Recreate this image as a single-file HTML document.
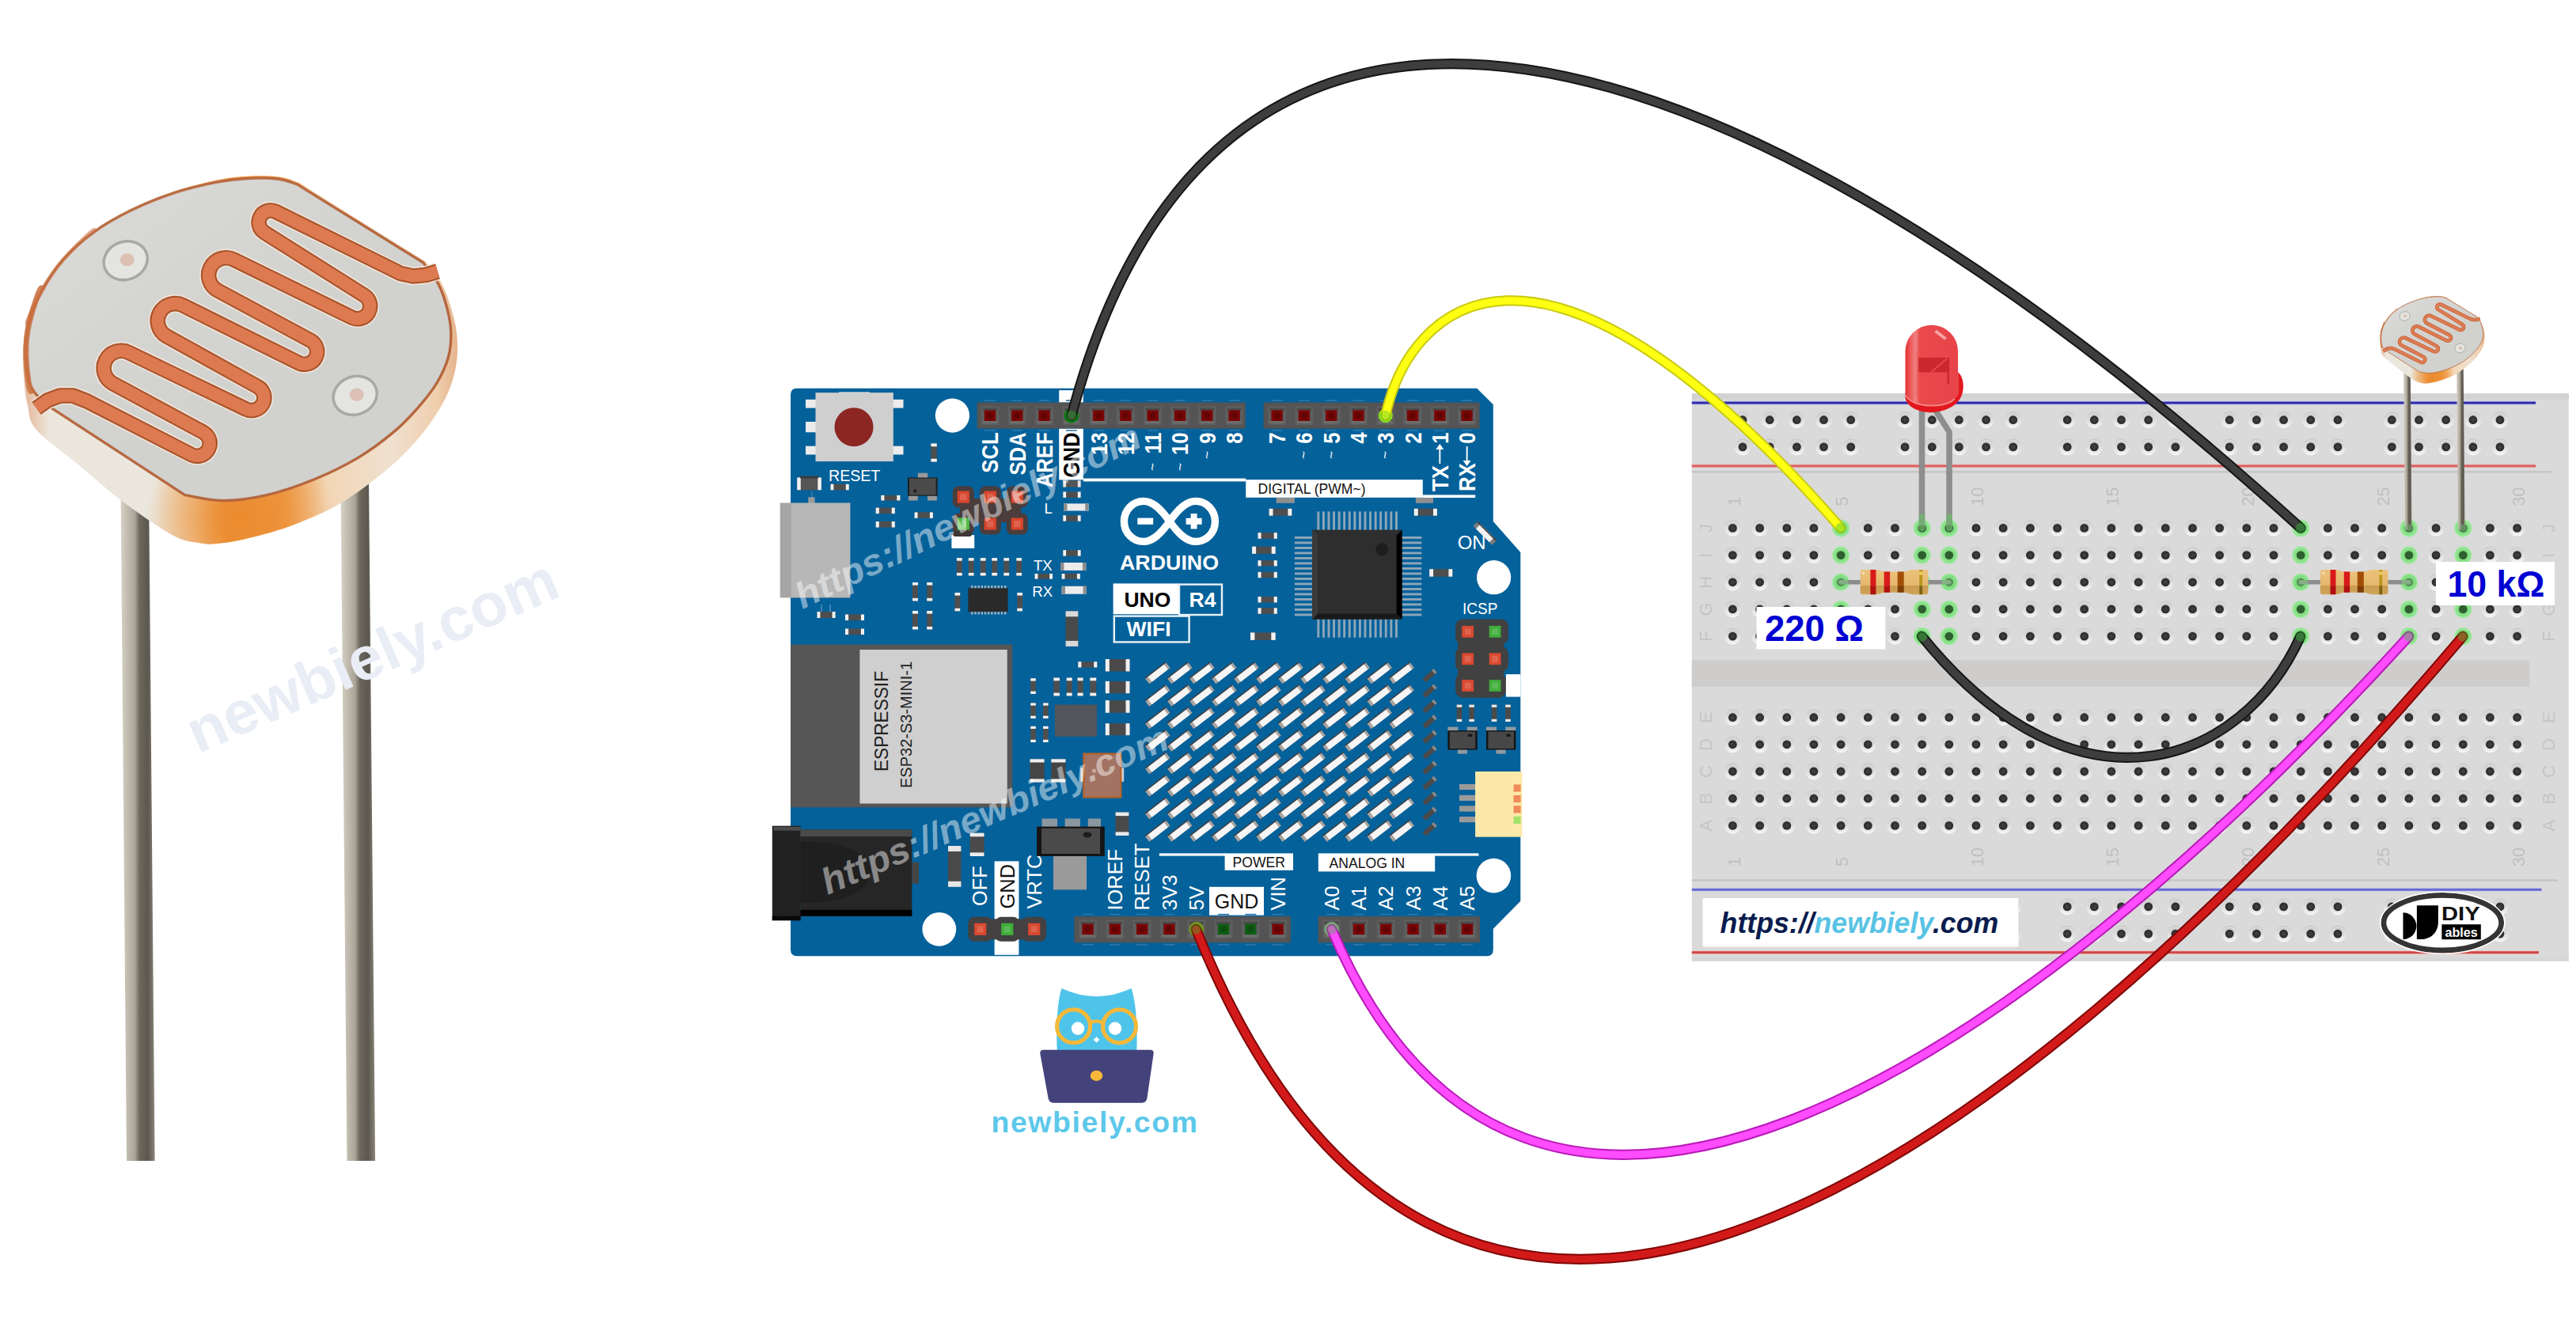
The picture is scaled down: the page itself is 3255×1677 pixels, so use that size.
<!DOCTYPE html>
<html><head><meta charset="utf-8"><title>Arduino UNO R4 LDR wiring</title>
<style>html,body{margin:0;padding:0;background:#fff;overflow:hidden}svg{display:block}text{font-family:"Liberation Sans",sans-serif}</style>
</head><body>
<svg width="3255" height="1677" viewBox="0 0 3255 1677">
<defs>
<linearGradient id="hg" x1="0" y1="0" x2="0" y2="1"><stop offset="0" stop-color="#c2c2c2"/><stop offset="0.35" stop-color="#d8d8d8"/><stop offset="1" stop-color="#f7f7f7"/></linearGradient>
<radialGradient id="hd"><stop offset="0" stop-color="#454545"/><stop offset="0.7" stop-color="#303030"/><stop offset="1" stop-color="#2a2a2a"/></radialGradient>
<g id="hole"><circle r="10.4" fill="url(#hg)"/><circle r="8.6" cy="-0.7" fill="#dcdcdc"/><circle r="8.6" cy="0.9" fill="url(#hg)" opacity="0.72"/><circle r="5.4" fill="url(#hd)"/></g>
<g id="ghole"><circle r="11" fill="#9be89b"/><circle r="9" fill="#86e086"/><circle r="5.4" fill="#2f5f2f"/></g>

<g id="mled" transform="rotate(-37.5)"><rect x="-16.6" y="-4.4" width="33.2" height="8.8" fill="#aaa39e"/><rect x="-12.4" y="-4.4" width="25.6" height="8.8" fill="#f5f5f5"/><rect x="-16.6" y="-5.4" width="33.2" height="1.7" fill="#39424a"/></g>

<linearGradient id="legg" x1="0" y1="0" x2="1" y2="0"><stop offset="0" stop-color="#d8d4c8"/><stop offset="0.18" stop-color="#c4bfb2"/><stop offset="0.42" stop-color="#aaa598"/><stop offset="0.56" stop-color="#6b675c"/><stop offset="0.8" stop-color="#5c584f"/><stop offset="1" stop-color="#8a867a"/></linearGradient>
<linearGradient id="wallg" x1="0" y1="0" x2="1" y2="0"><stop offset="0" stop-color="#e4b493"/><stop offset="0.06" stop-color="#ece6dc"/><stop offset="0.3" stop-color="#ebe7de"/><stop offset="0.4" stop-color="#efc79a"/><stop offset="0.47" stop-color="#ea9440"/><stop offset="0.6" stop-color="#ee9c4a"/><stop offset="0.7" stop-color="#f2d6b6"/><stop offset="0.85" stop-color="#efe0cf"/><stop offset="0.95" stop-color="#efcfae"/><stop offset="1" stop-color="#e6b48e"/></linearGradient>
<radialGradient id="wallo" cx="0.5" cy="0.93" r="0.22"><stop offset="0" stop-color="#ec8a2c" stop-opacity="0.9"/><stop offset="1" stop-color="#ec8a2c" stop-opacity="0"/></radialGradient>
<linearGradient id="faceg" x1="0" y1="0" x2="1" y2="1"><stop offset="0" stop-color="#fff" stop-opacity="0.12"/><stop offset="1" stop-color="#000" stop-opacity="0.03"/></linearGradient>

<linearGradient id="resg" x1="0" y1="0" x2="0" y2="1"><stop offset="0" stop-color="#ecc27c"/><stop offset="0.62" stop-color="#e6b86e"/><stop offset="0.66" stop-color="#c99c52"/><stop offset="1" stop-color="#cfa359"/></linearGradient>
<linearGradient id="ledg" x1="0" y1="0" x2="1" y2="0"><stop offset="0" stop-color="#e23034"/><stop offset="0.1" stop-color="#ee5a5a"/><stop offset="0.2" stop-color="#f08282"/><stop offset="0.27" stop-color="#ea4a4c"/><stop offset="1" stop-color="#e8444a"/></linearGradient>
</defs>
<rect width="3255" height="1677" fill="#fff"/>
<g id="bb">
<rect x="2137.8" y="497.3" width="1108.0" height="717.3" fill="#dadada"/>
<rect x="2137.8" y="497.3" width="1108.0" height="7" fill="#d2d2d2"/>
<rect x="2137.8" y="1209.6" width="1108.0" height="5" fill="#d6d6d6"/>
<rect x="2137.8" y="834.3" width="1058.6999999999998" height="33.6" fill="#cfcdcc"/>
<rect x="2137.8" y="595" width="1085.6999999999998" height="2.6" fill="#c6c6c6"/>
<rect x="2137.8" y="1111.2" width="1094.1999999999998" height="2.6" fill="#c6c6c6"/>
<rect x="2137.8" y="506.6" width="1066.1999999999998" height="5" fill="#c9c9f2"/>
<rect x="2137.8" y="507.6" width="1066.1999999999998" height="3" fill="#2c2ca6"/>
<rect x="2137.8" y="586.4" width="1066.1999999999998" height="5" fill="#f4c4c4"/>
<rect x="2137.8" y="587.4" width="1066.1999999999998" height="3" fill="#d66262"/>
<rect x="2137.8" y="1121.8" width="1073.6999999999998" height="5" fill="#cfcff2"/>
<rect x="2137.8" y="1122.8" width="1073.6999999999998" height="3" fill="#6a6ad0"/>
<rect x="2137.8" y="1201.2" width="1070.1999999999998" height="5" fill="#f4c4c4"/>
<rect x="2137.8" y="1202.2" width="1070.1999999999998" height="3" fill="#d04848"/>
<use href="#hole" x="2189.4" y="667.4"/>
<use href="#hole" x="2223.6" y="667.4"/>
<use href="#hole" x="2257.8" y="667.4"/>
<use href="#hole" x="2291.9" y="667.4"/>
<use href="#hole" x="2326.1" y="667.4"/>
<use href="#hole" x="2360.3" y="667.4"/>
<use href="#hole" x="2394.5" y="667.4"/>
<use href="#hole" x="2428.7" y="667.4"/>
<use href="#hole" x="2462.8" y="667.4"/>
<use href="#hole" x="2497" y="667.4"/>
<use href="#hole" x="2531.2" y="667.4"/>
<use href="#hole" x="2565.4" y="667.4"/>
<use href="#hole" x="2599.6" y="667.4"/>
<use href="#hole" x="2633.7" y="667.4"/>
<use href="#hole" x="2667.9" y="667.4"/>
<use href="#hole" x="2702.1" y="667.4"/>
<use href="#hole" x="2736.3" y="667.4"/>
<use href="#hole" x="2770.5" y="667.4"/>
<use href="#hole" x="2804.6" y="667.4"/>
<use href="#hole" x="2838.8" y="667.4"/>
<use href="#hole" x="2873" y="667.4"/>
<use href="#hole" x="2907.2" y="667.4"/>
<use href="#hole" x="2941.4" y="667.4"/>
<use href="#hole" x="2975.5" y="667.4"/>
<use href="#hole" x="3009.7" y="667.4"/>
<use href="#hole" x="3043.9" y="667.4"/>
<use href="#hole" x="3078.1" y="667.4"/>
<use href="#hole" x="3112.3" y="667.4"/>
<use href="#hole" x="3146.4" y="667.4"/>
<use href="#hole" x="3180.6" y="667.4"/>
<use href="#hole" x="2189.4" y="701.6"/>
<use href="#hole" x="2223.6" y="701.6"/>
<use href="#hole" x="2257.8" y="701.6"/>
<use href="#hole" x="2291.9" y="701.6"/>
<use href="#hole" x="2326.1" y="701.6"/>
<use href="#hole" x="2360.3" y="701.6"/>
<use href="#hole" x="2394.5" y="701.6"/>
<use href="#hole" x="2428.7" y="701.6"/>
<use href="#hole" x="2462.8" y="701.6"/>
<use href="#hole" x="2497" y="701.6"/>
<use href="#hole" x="2531.2" y="701.6"/>
<use href="#hole" x="2565.4" y="701.6"/>
<use href="#hole" x="2599.6" y="701.6"/>
<use href="#hole" x="2633.7" y="701.6"/>
<use href="#hole" x="2667.9" y="701.6"/>
<use href="#hole" x="2702.1" y="701.6"/>
<use href="#hole" x="2736.3" y="701.6"/>
<use href="#hole" x="2770.5" y="701.6"/>
<use href="#hole" x="2804.6" y="701.6"/>
<use href="#hole" x="2838.8" y="701.6"/>
<use href="#hole" x="2873" y="701.6"/>
<use href="#hole" x="2907.2" y="701.6"/>
<use href="#hole" x="2941.4" y="701.6"/>
<use href="#hole" x="2975.5" y="701.6"/>
<use href="#hole" x="3009.7" y="701.6"/>
<use href="#hole" x="3043.9" y="701.6"/>
<use href="#hole" x="3078.1" y="701.6"/>
<use href="#hole" x="3112.3" y="701.6"/>
<use href="#hole" x="3146.4" y="701.6"/>
<use href="#hole" x="3180.6" y="701.6"/>
<use href="#hole" x="2189.4" y="735.8"/>
<use href="#hole" x="2223.6" y="735.8"/>
<use href="#hole" x="2257.8" y="735.8"/>
<use href="#hole" x="2291.9" y="735.8"/>
<use href="#hole" x="2326.1" y="735.8"/>
<use href="#hole" x="2360.3" y="735.8"/>
<use href="#hole" x="2394.5" y="735.8"/>
<use href="#hole" x="2428.7" y="735.8"/>
<use href="#hole" x="2462.8" y="735.8"/>
<use href="#hole" x="2497" y="735.8"/>
<use href="#hole" x="2531.2" y="735.8"/>
<use href="#hole" x="2565.4" y="735.8"/>
<use href="#hole" x="2599.6" y="735.8"/>
<use href="#hole" x="2633.7" y="735.8"/>
<use href="#hole" x="2667.9" y="735.8"/>
<use href="#hole" x="2702.1" y="735.8"/>
<use href="#hole" x="2736.3" y="735.8"/>
<use href="#hole" x="2770.5" y="735.8"/>
<use href="#hole" x="2804.6" y="735.8"/>
<use href="#hole" x="2838.8" y="735.8"/>
<use href="#hole" x="2873" y="735.8"/>
<use href="#hole" x="2907.2" y="735.8"/>
<use href="#hole" x="2941.4" y="735.8"/>
<use href="#hole" x="2975.5" y="735.8"/>
<use href="#hole" x="3009.7" y="735.8"/>
<use href="#hole" x="3043.9" y="735.8"/>
<use href="#hole" x="3078.1" y="735.8"/>
<use href="#hole" x="3112.3" y="735.8"/>
<use href="#hole" x="3146.4" y="735.8"/>
<use href="#hole" x="3180.6" y="735.8"/>
<use href="#hole" x="2189.4" y="769.9"/>
<use href="#hole" x="2223.6" y="769.9"/>
<use href="#hole" x="2257.8" y="769.9"/>
<use href="#hole" x="2291.9" y="769.9"/>
<use href="#hole" x="2326.1" y="769.9"/>
<use href="#hole" x="2360.3" y="769.9"/>
<use href="#hole" x="2394.5" y="769.9"/>
<use href="#hole" x="2428.7" y="769.9"/>
<use href="#hole" x="2462.8" y="769.9"/>
<use href="#hole" x="2497" y="769.9"/>
<use href="#hole" x="2531.2" y="769.9"/>
<use href="#hole" x="2565.4" y="769.9"/>
<use href="#hole" x="2599.6" y="769.9"/>
<use href="#hole" x="2633.7" y="769.9"/>
<use href="#hole" x="2667.9" y="769.9"/>
<use href="#hole" x="2702.1" y="769.9"/>
<use href="#hole" x="2736.3" y="769.9"/>
<use href="#hole" x="2770.5" y="769.9"/>
<use href="#hole" x="2804.6" y="769.9"/>
<use href="#hole" x="2838.8" y="769.9"/>
<use href="#hole" x="2873" y="769.9"/>
<use href="#hole" x="2907.2" y="769.9"/>
<use href="#hole" x="2941.4" y="769.9"/>
<use href="#hole" x="2975.5" y="769.9"/>
<use href="#hole" x="3009.7" y="769.9"/>
<use href="#hole" x="3043.9" y="769.9"/>
<use href="#hole" x="3078.1" y="769.9"/>
<use href="#hole" x="3112.3" y="769.9"/>
<use href="#hole" x="3146.4" y="769.9"/>
<use href="#hole" x="3180.6" y="769.9"/>
<use href="#hole" x="2189.4" y="804.1"/>
<use href="#hole" x="2223.6" y="804.1"/>
<use href="#hole" x="2257.8" y="804.1"/>
<use href="#hole" x="2291.9" y="804.1"/>
<use href="#hole" x="2326.1" y="804.1"/>
<use href="#hole" x="2360.3" y="804.1"/>
<use href="#hole" x="2394.5" y="804.1"/>
<use href="#hole" x="2428.7" y="804.1"/>
<use href="#hole" x="2462.8" y="804.1"/>
<use href="#hole" x="2497" y="804.1"/>
<use href="#hole" x="2531.2" y="804.1"/>
<use href="#hole" x="2565.4" y="804.1"/>
<use href="#hole" x="2599.6" y="804.1"/>
<use href="#hole" x="2633.7" y="804.1"/>
<use href="#hole" x="2667.9" y="804.1"/>
<use href="#hole" x="2702.1" y="804.1"/>
<use href="#hole" x="2736.3" y="804.1"/>
<use href="#hole" x="2770.5" y="804.1"/>
<use href="#hole" x="2804.6" y="804.1"/>
<use href="#hole" x="2838.8" y="804.1"/>
<use href="#hole" x="2873" y="804.1"/>
<use href="#hole" x="2907.2" y="804.1"/>
<use href="#hole" x="2941.4" y="804.1"/>
<use href="#hole" x="2975.5" y="804.1"/>
<use href="#hole" x="3009.7" y="804.1"/>
<use href="#hole" x="3043.9" y="804.1"/>
<use href="#hole" x="3078.1" y="804.1"/>
<use href="#hole" x="3112.3" y="804.1"/>
<use href="#hole" x="3146.4" y="804.1"/>
<use href="#hole" x="3180.6" y="804.1"/>
<use href="#hole" x="2189.4" y="906.7"/>
<use href="#hole" x="2223.6" y="906.7"/>
<use href="#hole" x="2257.8" y="906.7"/>
<use href="#hole" x="2291.9" y="906.7"/>
<use href="#hole" x="2326.1" y="906.7"/>
<use href="#hole" x="2360.3" y="906.7"/>
<use href="#hole" x="2394.5" y="906.7"/>
<use href="#hole" x="2428.7" y="906.7"/>
<use href="#hole" x="2462.8" y="906.7"/>
<use href="#hole" x="2497" y="906.7"/>
<use href="#hole" x="2531.2" y="906.7"/>
<use href="#hole" x="2565.4" y="906.7"/>
<use href="#hole" x="2599.6" y="906.7"/>
<use href="#hole" x="2633.7" y="906.7"/>
<use href="#hole" x="2667.9" y="906.7"/>
<use href="#hole" x="2702.1" y="906.7"/>
<use href="#hole" x="2736.3" y="906.7"/>
<use href="#hole" x="2770.5" y="906.7"/>
<use href="#hole" x="2804.6" y="906.7"/>
<use href="#hole" x="2838.8" y="906.7"/>
<use href="#hole" x="2873" y="906.7"/>
<use href="#hole" x="2907.2" y="906.7"/>
<use href="#hole" x="2941.4" y="906.7"/>
<use href="#hole" x="2975.5" y="906.7"/>
<use href="#hole" x="3009.7" y="906.7"/>
<use href="#hole" x="3043.9" y="906.7"/>
<use href="#hole" x="3078.1" y="906.7"/>
<use href="#hole" x="3112.3" y="906.7"/>
<use href="#hole" x="3146.4" y="906.7"/>
<use href="#hole" x="3180.6" y="906.7"/>
<use href="#hole" x="2189.4" y="940.8"/>
<use href="#hole" x="2223.6" y="940.8"/>
<use href="#hole" x="2257.8" y="940.8"/>
<use href="#hole" x="2291.9" y="940.8"/>
<use href="#hole" x="2326.1" y="940.8"/>
<use href="#hole" x="2360.3" y="940.8"/>
<use href="#hole" x="2394.5" y="940.8"/>
<use href="#hole" x="2428.7" y="940.8"/>
<use href="#hole" x="2462.8" y="940.8"/>
<use href="#hole" x="2497" y="940.8"/>
<use href="#hole" x="2531.2" y="940.8"/>
<use href="#hole" x="2565.4" y="940.8"/>
<use href="#hole" x="2599.6" y="940.8"/>
<use href="#hole" x="2633.7" y="940.8"/>
<use href="#hole" x="2667.9" y="940.8"/>
<use href="#hole" x="2702.1" y="940.8"/>
<use href="#hole" x="2736.3" y="940.8"/>
<use href="#hole" x="2770.5" y="940.8"/>
<use href="#hole" x="2804.6" y="940.8"/>
<use href="#hole" x="2838.8" y="940.8"/>
<use href="#hole" x="2873" y="940.8"/>
<use href="#hole" x="2907.2" y="940.8"/>
<use href="#hole" x="2941.4" y="940.8"/>
<use href="#hole" x="2975.5" y="940.8"/>
<use href="#hole" x="3009.7" y="940.8"/>
<use href="#hole" x="3043.9" y="940.8"/>
<use href="#hole" x="3078.1" y="940.8"/>
<use href="#hole" x="3112.3" y="940.8"/>
<use href="#hole" x="3146.4" y="940.8"/>
<use href="#hole" x="3180.6" y="940.8"/>
<use href="#hole" x="2189.4" y="975"/>
<use href="#hole" x="2223.6" y="975"/>
<use href="#hole" x="2257.8" y="975"/>
<use href="#hole" x="2291.9" y="975"/>
<use href="#hole" x="2326.1" y="975"/>
<use href="#hole" x="2360.3" y="975"/>
<use href="#hole" x="2394.5" y="975"/>
<use href="#hole" x="2428.7" y="975"/>
<use href="#hole" x="2462.8" y="975"/>
<use href="#hole" x="2497" y="975"/>
<use href="#hole" x="2531.2" y="975"/>
<use href="#hole" x="2565.4" y="975"/>
<use href="#hole" x="2599.6" y="975"/>
<use href="#hole" x="2633.7" y="975"/>
<use href="#hole" x="2667.9" y="975"/>
<use href="#hole" x="2702.1" y="975"/>
<use href="#hole" x="2736.3" y="975"/>
<use href="#hole" x="2770.5" y="975"/>
<use href="#hole" x="2804.6" y="975"/>
<use href="#hole" x="2838.8" y="975"/>
<use href="#hole" x="2873" y="975"/>
<use href="#hole" x="2907.2" y="975"/>
<use href="#hole" x="2941.4" y="975"/>
<use href="#hole" x="2975.5" y="975"/>
<use href="#hole" x="3009.7" y="975"/>
<use href="#hole" x="3043.9" y="975"/>
<use href="#hole" x="3078.1" y="975"/>
<use href="#hole" x="3112.3" y="975"/>
<use href="#hole" x="3146.4" y="975"/>
<use href="#hole" x="3180.6" y="975"/>
<use href="#hole" x="2189.4" y="1009.2"/>
<use href="#hole" x="2223.6" y="1009.2"/>
<use href="#hole" x="2257.8" y="1009.2"/>
<use href="#hole" x="2291.9" y="1009.2"/>
<use href="#hole" x="2326.1" y="1009.2"/>
<use href="#hole" x="2360.3" y="1009.2"/>
<use href="#hole" x="2394.5" y="1009.2"/>
<use href="#hole" x="2428.7" y="1009.2"/>
<use href="#hole" x="2462.8" y="1009.2"/>
<use href="#hole" x="2497" y="1009.2"/>
<use href="#hole" x="2531.2" y="1009.2"/>
<use href="#hole" x="2565.4" y="1009.2"/>
<use href="#hole" x="2599.6" y="1009.2"/>
<use href="#hole" x="2633.7" y="1009.2"/>
<use href="#hole" x="2667.9" y="1009.2"/>
<use href="#hole" x="2702.1" y="1009.2"/>
<use href="#hole" x="2736.3" y="1009.2"/>
<use href="#hole" x="2770.5" y="1009.2"/>
<use href="#hole" x="2804.6" y="1009.2"/>
<use href="#hole" x="2838.8" y="1009.2"/>
<use href="#hole" x="2873" y="1009.2"/>
<use href="#hole" x="2907.2" y="1009.2"/>
<use href="#hole" x="2941.4" y="1009.2"/>
<use href="#hole" x="2975.5" y="1009.2"/>
<use href="#hole" x="3009.7" y="1009.2"/>
<use href="#hole" x="3043.9" y="1009.2"/>
<use href="#hole" x="3078.1" y="1009.2"/>
<use href="#hole" x="3112.3" y="1009.2"/>
<use href="#hole" x="3146.4" y="1009.2"/>
<use href="#hole" x="3180.6" y="1009.2"/>
<use href="#hole" x="2189.4" y="1043.4"/>
<use href="#hole" x="2223.6" y="1043.4"/>
<use href="#hole" x="2257.8" y="1043.4"/>
<use href="#hole" x="2291.9" y="1043.4"/>
<use href="#hole" x="2326.1" y="1043.4"/>
<use href="#hole" x="2360.3" y="1043.4"/>
<use href="#hole" x="2394.5" y="1043.4"/>
<use href="#hole" x="2428.7" y="1043.4"/>
<use href="#hole" x="2462.8" y="1043.4"/>
<use href="#hole" x="2497" y="1043.4"/>
<use href="#hole" x="2531.2" y="1043.4"/>
<use href="#hole" x="2565.4" y="1043.4"/>
<use href="#hole" x="2599.6" y="1043.4"/>
<use href="#hole" x="2633.7" y="1043.4"/>
<use href="#hole" x="2667.9" y="1043.4"/>
<use href="#hole" x="2702.1" y="1043.4"/>
<use href="#hole" x="2736.3" y="1043.4"/>
<use href="#hole" x="2770.5" y="1043.4"/>
<use href="#hole" x="2804.6" y="1043.4"/>
<use href="#hole" x="2838.8" y="1043.4"/>
<use href="#hole" x="2873" y="1043.4"/>
<use href="#hole" x="2907.2" y="1043.4"/>
<use href="#hole" x="2941.4" y="1043.4"/>
<use href="#hole" x="2975.5" y="1043.4"/>
<use href="#hole" x="3009.7" y="1043.4"/>
<use href="#hole" x="3043.9" y="1043.4"/>
<use href="#hole" x="3078.1" y="1043.4"/>
<use href="#hole" x="3112.3" y="1043.4"/>
<use href="#hole" x="3146.4" y="1043.4"/>
<use href="#hole" x="3180.6" y="1043.4"/>
<use href="#hole" x="2202" y="530.7"/>
<use href="#hole" x="2236.2" y="530.7"/>
<use href="#hole" x="2270.4" y="530.7"/>
<use href="#hole" x="2304.5" y="530.7"/>
<use href="#hole" x="2338.7" y="530.7"/>
<use href="#hole" x="2407.1" y="530.7"/>
<use href="#hole" x="2441.3" y="530.7"/>
<use href="#hole" x="2475.4" y="530.7"/>
<use href="#hole" x="2509.6" y="530.7"/>
<use href="#hole" x="2543.8" y="530.7"/>
<use href="#hole" x="2612.2" y="530.7"/>
<use href="#hole" x="2646.3" y="530.7"/>
<use href="#hole" x="2680.5" y="530.7"/>
<use href="#hole" x="2714.7" y="530.7"/>
<use href="#hole" x="2748.9" y="530.7"/>
<use href="#hole" x="2817.2" y="530.7"/>
<use href="#hole" x="2851.4" y="530.7"/>
<use href="#hole" x="2885.6" y="530.7"/>
<use href="#hole" x="2919.8" y="530.7"/>
<use href="#hole" x="2954" y="530.7"/>
<use href="#hole" x="3022.3" y="530.7"/>
<use href="#hole" x="3056.5" y="530.7"/>
<use href="#hole" x="3090.7" y="530.7"/>
<use href="#hole" x="3124.9" y="530.7"/>
<use href="#hole" x="3159" y="530.7"/>
<use href="#hole" x="2202" y="564.9"/>
<use href="#hole" x="2236.2" y="564.9"/>
<use href="#hole" x="2270.4" y="564.9"/>
<use href="#hole" x="2304.5" y="564.9"/>
<use href="#hole" x="2338.7" y="564.9"/>
<use href="#hole" x="2407.1" y="564.9"/>
<use href="#hole" x="2441.3" y="564.9"/>
<use href="#hole" x="2475.4" y="564.9"/>
<use href="#hole" x="2509.6" y="564.9"/>
<use href="#hole" x="2543.8" y="564.9"/>
<use href="#hole" x="2612.2" y="564.9"/>
<use href="#hole" x="2646.3" y="564.9"/>
<use href="#hole" x="2680.5" y="564.9"/>
<use href="#hole" x="2714.7" y="564.9"/>
<use href="#hole" x="2748.9" y="564.9"/>
<use href="#hole" x="2817.2" y="564.9"/>
<use href="#hole" x="2851.4" y="564.9"/>
<use href="#hole" x="2885.6" y="564.9"/>
<use href="#hole" x="2919.8" y="564.9"/>
<use href="#hole" x="2954" y="564.9"/>
<use href="#hole" x="3022.3" y="564.9"/>
<use href="#hole" x="3056.5" y="564.9"/>
<use href="#hole" x="3090.7" y="564.9"/>
<use href="#hole" x="3124.9" y="564.9"/>
<use href="#hole" x="3159" y="564.9"/>
<use href="#hole" x="2202" y="1145.9"/>
<use href="#hole" x="2236.2" y="1145.9"/>
<use href="#hole" x="2270.4" y="1145.9"/>
<use href="#hole" x="2304.5" y="1145.9"/>
<use href="#hole" x="2338.7" y="1145.9"/>
<use href="#hole" x="2407.1" y="1145.9"/>
<use href="#hole" x="2441.3" y="1145.9"/>
<use href="#hole" x="2475.4" y="1145.9"/>
<use href="#hole" x="2509.6" y="1145.9"/>
<use href="#hole" x="2543.8" y="1145.9"/>
<use href="#hole" x="2612.2" y="1145.9"/>
<use href="#hole" x="2646.3" y="1145.9"/>
<use href="#hole" x="2680.5" y="1145.9"/>
<use href="#hole" x="2714.7" y="1145.9"/>
<use href="#hole" x="2748.9" y="1145.9"/>
<use href="#hole" x="2817.2" y="1145.9"/>
<use href="#hole" x="2851.4" y="1145.9"/>
<use href="#hole" x="2885.6" y="1145.9"/>
<use href="#hole" x="2919.8" y="1145.9"/>
<use href="#hole" x="2954" y="1145.9"/>
<use href="#hole" x="3022.3" y="1145.9"/>
<use href="#hole" x="3056.5" y="1145.9"/>
<use href="#hole" x="3090.7" y="1145.9"/>
<use href="#hole" x="3124.9" y="1145.9"/>
<use href="#hole" x="3159" y="1145.9"/>
<use href="#hole" x="2202" y="1180.1"/>
<use href="#hole" x="2236.2" y="1180.1"/>
<use href="#hole" x="2270.4" y="1180.1"/>
<use href="#hole" x="2304.5" y="1180.1"/>
<use href="#hole" x="2338.7" y="1180.1"/>
<use href="#hole" x="2407.1" y="1180.1"/>
<use href="#hole" x="2441.3" y="1180.1"/>
<use href="#hole" x="2475.4" y="1180.1"/>
<use href="#hole" x="2509.6" y="1180.1"/>
<use href="#hole" x="2543.8" y="1180.1"/>
<use href="#hole" x="2612.2" y="1180.1"/>
<use href="#hole" x="2646.3" y="1180.1"/>
<use href="#hole" x="2680.5" y="1180.1"/>
<use href="#hole" x="2714.7" y="1180.1"/>
<use href="#hole" x="2748.9" y="1180.1"/>
<use href="#hole" x="2817.2" y="1180.1"/>
<use href="#hole" x="2851.4" y="1180.1"/>
<use href="#hole" x="2885.6" y="1180.1"/>
<use href="#hole" x="2919.8" y="1180.1"/>
<use href="#hole" x="2954" y="1180.1"/>
<use href="#hole" x="3022.3" y="1180.1"/>
<use href="#hole" x="3056.5" y="1180.1"/>
<use href="#hole" x="3090.7" y="1180.1"/>
<use href="#hole" x="3124.9" y="1180.1"/>
<use href="#hole" x="3159" y="1180.1"/>
<use href="#ghole" x="2326.1" y="667.4"/>
<use href="#ghole" x="2326.1" y="701.6"/>
<use href="#ghole" x="2326.1" y="735.8"/>
<use href="#ghole" x="2326.1" y="769.9"/>
<use href="#ghole" x="2326.1" y="804.1"/>
<use href="#ghole" x="2428.7" y="667.4"/>
<use href="#ghole" x="2428.7" y="701.6"/>
<use href="#ghole" x="2428.7" y="735.8"/>
<use href="#ghole" x="2428.7" y="769.9"/>
<use href="#ghole" x="2428.7" y="804.1"/>
<use href="#ghole" x="2462.8" y="667.4"/>
<use href="#ghole" x="2462.8" y="701.6"/>
<use href="#ghole" x="2462.8" y="735.8"/>
<use href="#ghole" x="2462.8" y="769.9"/>
<use href="#ghole" x="2462.8" y="804.1"/>
<use href="#ghole" x="2907.2" y="667.4"/>
<use href="#ghole" x="2907.2" y="701.6"/>
<use href="#ghole" x="2907.2" y="735.8"/>
<use href="#ghole" x="2907.2" y="769.9"/>
<use href="#ghole" x="2907.2" y="804.1"/>
<use href="#ghole" x="3043.9" y="667.4"/>
<use href="#ghole" x="3043.9" y="701.6"/>
<use href="#ghole" x="3043.9" y="735.8"/>
<use href="#ghole" x="3043.9" y="769.9"/>
<use href="#ghole" x="3043.9" y="804.1"/>
<use href="#ghole" x="3112.3" y="667.4"/>
<use href="#ghole" x="3112.3" y="701.6"/>
<use href="#ghole" x="3112.3" y="735.8"/>
<use href="#ghole" x="3112.3" y="769.9"/>
<use href="#ghole" x="3112.3" y="804.1"/>
<text transform="translate(2198.6,639.4) rotate(-90)" text-anchor="start" font-size="21.4" fill="#c0c0c0">1</text>
<text transform="translate(2198.6,1095) rotate(-90)" text-anchor="start" font-size="21.4" fill="#c0c0c0">1</text>
<text transform="translate(2335.3,639.4) rotate(-90)" text-anchor="start" font-size="21.4" fill="#c0c0c0">5</text>
<text transform="translate(2335.3,1095) rotate(-90)" text-anchor="start" font-size="21.4" fill="#c0c0c0">5</text>
<text transform="translate(2506.2,639.4) rotate(-90)" text-anchor="start" font-size="21.4" fill="#c0c0c0">10</text>
<text transform="translate(2506.2,1095) rotate(-90)" text-anchor="start" font-size="21.4" fill="#c0c0c0">10</text>
<text transform="translate(2677.1,639.4) rotate(-90)" text-anchor="start" font-size="21.4" fill="#c0c0c0">15</text>
<text transform="translate(2677.1,1095) rotate(-90)" text-anchor="start" font-size="21.4" fill="#c0c0c0">15</text>
<text transform="translate(2848,639.4) rotate(-90)" text-anchor="start" font-size="21.4" fill="#c0c0c0">20</text>
<text transform="translate(2848,1095) rotate(-90)" text-anchor="start" font-size="21.4" fill="#c0c0c0">20</text>
<text transform="translate(3018.9,639.4) rotate(-90)" text-anchor="start" font-size="21.4" fill="#c0c0c0">25</text>
<text transform="translate(3018.9,1095) rotate(-90)" text-anchor="start" font-size="21.4" fill="#c0c0c0">25</text>
<text transform="translate(3189.8,639.4) rotate(-90)" text-anchor="start" font-size="21.4" fill="#c0c0c0">30</text>
<text transform="translate(3189.8,1095) rotate(-90)" text-anchor="start" font-size="21.4" fill="#c0c0c0">30</text>
<text transform="translate(2163,667.4) rotate(-90)" text-anchor="middle" font-size="22" fill="#c6c6c6">J</text>
<text transform="translate(3228,667.4) rotate(-90)" text-anchor="middle" font-size="22" fill="#c6c6c6">J</text>
<text transform="translate(2163,701.6) rotate(-90)" text-anchor="middle" font-size="22" fill="#c6c6c6">I</text>
<text transform="translate(3228,701.6) rotate(-90)" text-anchor="middle" font-size="22" fill="#c6c6c6">I</text>
<text transform="translate(2163,735.8) rotate(-90)" text-anchor="middle" font-size="22" fill="#c6c6c6">H</text>
<text transform="translate(3228,735.8) rotate(-90)" text-anchor="middle" font-size="22" fill="#c6c6c6">H</text>
<text transform="translate(2163,769.9) rotate(-90)" text-anchor="middle" font-size="22" fill="#c6c6c6">G</text>
<text transform="translate(3228,769.9) rotate(-90)" text-anchor="middle" font-size="22" fill="#c6c6c6">G</text>
<text transform="translate(2163,804.1) rotate(-90)" text-anchor="middle" font-size="22" fill="#c6c6c6">F</text>
<text transform="translate(3228,804.1) rotate(-90)" text-anchor="middle" font-size="22" fill="#c6c6c6">F</text>
<text transform="translate(2163,906.7) rotate(-90)" text-anchor="middle" font-size="22" fill="#c6c6c6">E</text>
<text transform="translate(3228,906.7) rotate(-90)" text-anchor="middle" font-size="22" fill="#c6c6c6">E</text>
<text transform="translate(2163,940.8) rotate(-90)" text-anchor="middle" font-size="22" fill="#c6c6c6">D</text>
<text transform="translate(3228,940.8) rotate(-90)" text-anchor="middle" font-size="22" fill="#c6c6c6">D</text>
<text transform="translate(2163,975) rotate(-90)" text-anchor="middle" font-size="22" fill="#c6c6c6">C</text>
<text transform="translate(3228,975) rotate(-90)" text-anchor="middle" font-size="22" fill="#c6c6c6">C</text>
<text transform="translate(2163,1009.2) rotate(-90)" text-anchor="middle" font-size="22" fill="#c6c6c6">B</text>
<text transform="translate(3228,1009.2) rotate(-90)" text-anchor="middle" font-size="22" fill="#c6c6c6">B</text>
<text transform="translate(2163,1043.4) rotate(-90)" text-anchor="middle" font-size="22" fill="#c6c6c6">A</text>
<text transform="translate(3228,1043.4) rotate(-90)" text-anchor="middle" font-size="22" fill="#c6c6c6">A</text>
</g>
<g id="arduino">
<path d="M1007,490.8 L1866.2,490.8 L1886.8,511.2 L1886.8,659 L1921.3,698 L1921.3,1138.8 L1886.8,1173.8 L1886.8,1200.3 Q1886.8,1208.3 1878.8,1208.3 L1007,1208.3 Q999,1208.3 999,1200.3 L999,498.8 Q999,490.8 1007,490.8 Z" fill="#05619a"/><circle cx="1203.4" cy="525.1" r="21.6" fill="#fff"/><circle cx="1887.6" cy="729.7" r="21.6" fill="#fff"/><circle cx="1887.4" cy="1106.6" r="21.8" fill="#fff"/><circle cx="1186.8" cy="1174.3" r="21.4" fill="#fff"/>
<rect x="1338.2" y="493.2" width="30.6" height="15.4" fill="#fff" /><rect x="1338.2" y="541.6" width="30.6" height="64.8" fill="#fff" /><text transform="translate(1261.4,546.4) rotate(-90) scale(0.885,1)" font-size="29" font-weight="bold" text-anchor="end" fill="#fff" >SCL</text><text transform="translate(1295.7,546.4) rotate(-90) scale(0.885,1)" font-size="29" font-weight="bold" text-anchor="end" fill="#fff" >SDA</text><text transform="translate(1330,546.4) rotate(-90) scale(0.885,1)" font-size="29" font-weight="bold" text-anchor="end" fill="#fff" >AREF</text><text transform="translate(1364.3,546.4) rotate(-90) scale(0.885,1)" font-size="29" font-weight="bold" text-anchor="end" fill="#000" >GND</text><text transform="translate(1398.6,546.4) rotate(-90) scale(0.885,1)" font-size="29" font-weight="bold" text-anchor="end" fill="#fff" >13</text><text transform="translate(1432.9,546.4) rotate(-90) scale(0.885,1)" font-size="29" font-weight="bold" text-anchor="end" fill="#fff" >12</text><text transform="translate(1467.1,546.4) rotate(-90) scale(0.885,1)" font-size="29" font-weight="bold" text-anchor="end" fill="#fff" >11</text><text transform="translate(1462.2,590) rotate(-90) scale(1.0,1)" font-size="17" font-weight="normal" text-anchor="middle" fill="#fff" >~</text><text transform="translate(1501.4,546.4) rotate(-90) scale(0.885,1)" font-size="29" font-weight="bold" text-anchor="end" fill="#fff" >10</text><text transform="translate(1496.5,590) rotate(-90) scale(1.0,1)" font-size="17" font-weight="normal" text-anchor="middle" fill="#fff" >~</text><text transform="translate(1535.7,546.4) rotate(-90) scale(0.885,1)" font-size="29" font-weight="bold" text-anchor="end" fill="#fff" >9</text><text transform="translate(1530.8,575) rotate(-90) scale(1.0,1)" font-size="17" font-weight="normal" text-anchor="middle" fill="#fff" >~</text><text transform="translate(1570,546.4) rotate(-90) scale(0.885,1)" font-size="29" font-weight="bold" text-anchor="end" fill="#fff" >8</text><text transform="translate(1624,546.4) rotate(-90) scale(0.885,1)" font-size="29" font-weight="bold" text-anchor="end" fill="#fff" >7</text><text transform="translate(1658.3,546.4) rotate(-90) scale(0.885,1)" font-size="29" font-weight="bold" text-anchor="end" fill="#fff" >6</text><text transform="translate(1653.4,575) rotate(-90) scale(1.0,1)" font-size="17" font-weight="normal" text-anchor="middle" fill="#fff" >~</text><text transform="translate(1692.6,546.4) rotate(-90) scale(0.885,1)" font-size="29" font-weight="bold" text-anchor="end" fill="#fff" >5</text><text transform="translate(1687.7,575) rotate(-90) scale(1.0,1)" font-size="17" font-weight="normal" text-anchor="middle" fill="#fff" >~</text><text transform="translate(1726.9,546.4) rotate(-90) scale(0.885,1)" font-size="29" font-weight="bold" text-anchor="end" fill="#fff" >4</text><text transform="translate(1761.2,546.4) rotate(-90) scale(0.885,1)" font-size="29" font-weight="bold" text-anchor="end" fill="#fff" >3</text><text transform="translate(1756.3,575) rotate(-90) scale(1.0,1)" font-size="17" font-weight="normal" text-anchor="middle" fill="#fff" >~</text><text transform="translate(1795.5,546.4) rotate(-90) scale(0.885,1)" font-size="29" font-weight="bold" text-anchor="end" fill="#fff" >2</text><text transform="translate(1829.7,546.4) rotate(-90) scale(0.885,1)" font-size="29" font-weight="bold" text-anchor="end" fill="#fff" >1</text><text transform="translate(1864,546.4) rotate(-90) scale(0.885,1)" font-size="29" font-weight="bold" text-anchor="end" fill="#fff" >0</text><text transform="translate(1829.7,621) rotate(-90) scale(0.885,1)" font-size="29" font-weight="bold" text-anchor="start" fill="#fff" >TX</text><rect x="1818.4" y="564" width="1.9" height="22" fill="#fff"/><path d="M1819.3,561 l-5,7 h10 z" fill="#fff"/><text transform="translate(1864,621) rotate(-90) scale(0.885,1)" font-size="29" font-weight="bold" text-anchor="start" fill="#fff" >RX</text><rect x="1852.7" y="564" width="1.9" height="22" fill="#fff"/><path d="M1853.6,589 l-5,-7 h10 z" fill="#fff"/><rect x="1368.8" y="604.6" width="205.4" height="3.8" fill="#fff" /><rect x="1574.2" y="606.2" width="223.6" height="22.6" fill="#fff" /><rect x="1797.8" y="625.4" width="66.4" height="3.6" fill="#fff" /><text x="1589.5" y="624.2" font-size="18.6" font-weight="normal" text-anchor="start" fill="#111" textLength="136" lengthAdjust="spacingAndGlyphs">DIGITAL (PWM~)</text><text transform="translate(1417.9,1150.5) rotate(-90) scale(1.0,1)" font-size="25.4" font-weight="normal" text-anchor="start" fill="#fff" >IOREF</text><text transform="translate(1452.2,1150.5) rotate(-90) scale(1.0,1)" font-size="25.4" font-weight="normal" text-anchor="start" fill="#fff" >RESET</text><text transform="translate(1486.5,1150.5) rotate(-90) scale(1.0,1)" font-size="25.4" font-weight="normal" text-anchor="start" fill="#fff" >3V3</text><text transform="translate(1520.8,1150.5) rotate(-90) scale(1.0,1)" font-size="25.4" font-weight="normal" text-anchor="start" fill="#fff" >5V</text><text transform="translate(1623.6,1150.5) rotate(-90) scale(1.0,1)" font-size="25.4" font-weight="normal" text-anchor="start" fill="#fff" >VIN</text><rect x="1528" y="1120.8" width="69" height="35.8" fill="#fff" /><text x="1562.5" y="1147.6" font-size="25" font-weight="normal" text-anchor="middle" fill="#111" >GND</text><text transform="translate(1691.6,1150.5) rotate(-90) scale(1.0,1)" font-size="25.4" font-weight="normal" text-anchor="start" fill="#fff" >A0</text><text transform="translate(1725.9,1150.5) rotate(-90) scale(1.0,1)" font-size="25.4" font-weight="normal" text-anchor="start" fill="#fff" >A1</text><text transform="translate(1760.2,1150.5) rotate(-90) scale(1.0,1)" font-size="25.4" font-weight="normal" text-anchor="start" fill="#fff" >A2</text><text transform="translate(1794.5,1150.5) rotate(-90) scale(1.0,1)" font-size="25.4" font-weight="normal" text-anchor="start" fill="#fff" >A3</text><text transform="translate(1828.8,1150.5) rotate(-90) scale(1.0,1)" font-size="25.4" font-weight="normal" text-anchor="start" fill="#fff" >A4</text><text transform="translate(1863,1150.5) rotate(-90) scale(1.0,1)" font-size="25.4" font-weight="normal" text-anchor="start" fill="#fff" >A5</text><rect x="1464.8" y="1078.4" width="83.2" height="3.2" fill="#fff" /><rect x="1547.6" y="1078.4" width="86.4" height="21.4" fill="#fff" /><text x="1590.8" y="1096.4" font-size="17.6" font-weight="normal" text-anchor="middle" fill="#111" >POWER</text><rect x="1665.8" y="1078.4" width="147.4" height="23" fill="#fff" /><rect x="1813" y="1078.4" width="55.4" height="3.2" fill="#fff" /><text x="1679.5" y="1097" font-size="17.6" font-weight="normal" text-anchor="start" fill="#111" >ANALOG IN</text><rect x="1256.6" y="1088.4" width="30.8" height="118.4" fill="#fff" /><text transform="translate(1247.3,1145) rotate(-90) scale(1.0,1)" font-size="25.4" font-weight="normal" text-anchor="start" fill="#fff" >OFF</text><text transform="translate(1282.3,1148.4) rotate(-90) scale(1.0,1)" font-size="25.4" font-weight="normal" text-anchor="start" fill="#111" >GND</text><text transform="translate(1316.3,1148.4) rotate(-90) scale(1.0,1)" font-size="25.4" font-weight="normal" text-anchor="start" fill="#fff" >VRTC</text>
<rect x="1018" y="504.9" width="13" height="10.7" fill="#ececec" /><rect x="1018" y="533" width="13" height="13.3" fill="#ececec" /><rect x="1018" y="563.7" width="13" height="10.8" fill="#ececec" /><rect x="1128" y="504.9" width="13.5" height="10.7" fill="#ececec" /><rect x="1128" y="563.7" width="13.5" height="10.8" fill="#ececec" /><rect x="1030.5" y="496.2" width="98.3" height="86.9" fill="#cfcfcf" /><rect x="1060" y="495.4" width="39" height="1.6" fill="#d8d8d8" /><circle cx="1079" cy="539.7" r="24.5" fill="#8c2622"/><text x="1047" y="607.8" font-size="19.6" font-weight="normal" text-anchor="start" fill="#fff" >RESET</text><rect x="1007.2" y="603.5" width="30.7" height="15.8" fill="#555"/><rect x="1007.2" y="603.5" width="4.6" height="15.8" fill="#f0f0f0"/><rect x="1033.3" y="603.5" width="4.6" height="15.8" fill="#f0f0f0"/><rect x="1011" y="601.6" width="23" height="2.8" fill="#3c3c3c" /><rect x="1049.5" y="611.8" width="23.2" height="7.5" fill="#4e4e4e"/><rect x="1049.5" y="611.8" width="3.9" height="7.5" fill="#f2f2f2"/><rect x="1068.8" y="611.8" width="3.9" height="7.5" fill="#f2f2f2"/><rect x="1176.3" y="560.4" width="7.5" height="23.2" fill="#4e4e4e"/><rect x="1176.3" y="560.4" width="7.5" height="3.9" fill="#f2f2f2"/><rect x="1176.3" y="579.7" width="7.5" height="3.9" fill="#f2f2f2"/><rect x="1159.8" y="597.7" width="12.4" height="6.3" fill="#9a9a9a" /><rect x="1148" y="626.5" width="11.8" height="6" fill="#9a9a9a" /><rect x="1172" y="626.5" width="11.8" height="6" fill="#9a9a9a" /><rect x="1147" y="603.5" width="37.6" height="23.2" fill="#1e1e1e" /><rect x="1149" y="604.6" width="33.6" height="21" fill="#4b4b4b" /><circle cx="1156.2" cy="620.6" r="2" fill="#1a1a1a"/><rect x="1113.3" y="625.9" width="24.1" height="6.6" fill="#4e4e4e"/><rect x="1113.3" y="625.9" width="4.1" height="6.6" fill="#f2f2f2"/><rect x="1133.3" y="625.9" width="4.1" height="6.6" fill="#f2f2f2"/><rect x="1106.7" y="641.6" width="24.1" height="7.5" fill="#4e4e4e"/><rect x="1106.7" y="641.6" width="4.1" height="7.5" fill="#f2f2f2"/><rect x="1126.7" y="641.6" width="4.1" height="7.5" fill="#f2f2f2"/><rect x="1106.7" y="659" width="24.1" height="7.5" fill="#4e4e4e"/><rect x="1106.7" y="659" width="4.1" height="7.5" fill="#f2f2f2"/><rect x="1126.7" y="659" width="4.1" height="7.5" fill="#f2f2f2"/><rect x="1155.6" y="647.4" width="23.2" height="7.5" fill="#4e4e4e"/><rect x="1155.6" y="647.4" width="3.9" height="7.5" fill="#f2f2f2"/><rect x="1174.9" y="647.4" width="3.9" height="7.5" fill="#f2f2f2"/><rect x="1025" y="621" width="1.4" height="8" fill="#3f86b4" /><rect x="1021.3" y="628.4" width="8.3" height="7.6" fill="#9b9b9b" /><rect x="985.7" y="635.5" width="14.3" height="119.9" fill="#a5a5a5" /><rect x="999.8" y="635.5" width="74.6" height="119.9" fill="#b7b7b7" /><rect x="1032.5" y="773" width="23" height="8" fill="#4e4e4e"/><rect x="1032.5" y="773" width="3.9" height="8" fill="#f2f2f2"/><rect x="1051.6" y="773" width="3.9" height="8" fill="#f2f2f2"/><rect x="1037" y="764" width="2" height="9" fill="#3f86b4" /><rect x="1048" y="764" width="2" height="9" fill="#3f86b4" /><rect x="1068" y="776.5" width="24" height="7.5" fill="#4e4e4e"/><rect x="1068" y="776.5" width="4.1" height="7.5" fill="#f2f2f2"/><rect x="1087.9" y="776.5" width="4.1" height="7.5" fill="#f2f2f2"/><rect x="1068" y="794.5" width="24" height="7.5" fill="#4e4e4e"/><rect x="1068" y="794.5" width="4.1" height="7.5" fill="#f2f2f2"/><rect x="1087.9" y="794.5" width="4.1" height="7.5" fill="#f2f2f2"/><rect x="1203.8" y="614.6" width="27" height="27" rx="7" fill="#4b3d3b"/><rect x="1203.8" y="648.5" width="27" height="27" rx="7" fill="#4b3d3b"/><rect x="1237.8" y="614.6" width="27" height="27" rx="7" fill="#4b3d3b"/><rect x="1237.8" y="648.5" width="27" height="27" rx="7" fill="#4b3d3b"/><rect x="1271.8" y="614.6" width="27" height="27" rx="7" fill="#4b3d3b"/><rect x="1271.8" y="648.5" width="27" height="27" rx="7" fill="#4b3d3b"/><rect x="1213" y="630" width="77" height="30" fill="#4b3d3b" /><rect x="1209.7" y="620.5" width="15.2" height="15.2" fill="#d8452c"/><rect x="1213.1" y="623.9" width="8.4" height="8.4" fill="#fff" opacity="0.16"/><rect x="1209.7" y="654.4" width="15.2" height="15.2" fill="#4fb946"/><rect x="1213.1" y="657.8" width="8.4" height="8.4" fill="#fff" opacity="0.16"/><rect x="1243.7" y="620.5" width="15.2" height="15.2" fill="#d8452c"/><rect x="1247.1" y="623.9" width="8.4" height="8.4" fill="#fff" opacity="0.16"/><rect x="1243.7" y="654.4" width="15.2" height="15.2" fill="#d8452c"/><rect x="1247.1" y="657.8" width="8.4" height="8.4" fill="#fff" opacity="0.16"/><rect x="1277.7" y="620.5" width="15.2" height="15.2" fill="#d8452c"/><rect x="1281.1" y="623.9" width="8.4" height="8.4" fill="#fff" opacity="0.16"/><rect x="1277.7" y="654.4" width="15.2" height="15.2" fill="#d8452c"/><rect x="1281.1" y="657.8" width="8.4" height="8.4" fill="#fff" opacity="0.16"/><rect x="1202.4" y="676.1" width="28.8" height="16.8" fill="#fff" /><rect x="1204" y="671" width="24" height="7" rx="3" fill="#3c3634"/><rect x="1208.9" y="705.1" width="6.8" height="22.4" fill="#4e4e4e"/><rect x="1208.9" y="705.1" width="6.8" height="3.6" fill="#f2f2f2"/><rect x="1208.9" y="723.9" width="6.8" height="3.6" fill="#f2f2f2"/><rect x="1223.8" y="705.1" width="6.8" height="22.4" fill="#4e4e4e"/><rect x="1223.8" y="705.1" width="6.8" height="3.6" fill="#f2f2f2"/><rect x="1223.8" y="723.9" width="6.8" height="3.6" fill="#f2f2f2"/><rect x="1238.8" y="705.1" width="6.8" height="22.4" fill="#4e4e4e"/><rect x="1238.8" y="705.1" width="6.8" height="3.6" fill="#f2f2f2"/><rect x="1238.8" y="723.9" width="6.8" height="3.6" fill="#f2f2f2"/><rect x="1253.3" y="705.1" width="6.8" height="22.4" fill="#4e4e4e"/><rect x="1253.3" y="705.1" width="6.8" height="3.6" fill="#f2f2f2"/><rect x="1253.3" y="723.9" width="6.8" height="3.6" fill="#f2f2f2"/><rect x="1268.3" y="705.1" width="6.8" height="22.4" fill="#4e4e4e"/><rect x="1268.3" y="705.1" width="6.8" height="3.6" fill="#f2f2f2"/><rect x="1268.3" y="723.9" width="6.8" height="3.6" fill="#f2f2f2"/><rect x="1284.3" y="705.1" width="6.8" height="22.4" fill="#4e4e4e"/><rect x="1284.3" y="705.1" width="6.8" height="3.6" fill="#f2f2f2"/><rect x="1284.3" y="723.9" width="6.8" height="3.6" fill="#f2f2f2"/><rect x="1227" y="740" width="2.4" height="36.5" fill="#9fb2c0" /><rect x="1231.2" y="740" width="2.4" height="36.5" fill="#9fb2c0" /><rect x="1235.4" y="740" width="2.4" height="36.5" fill="#9fb2c0" /><rect x="1239.6" y="740" width="2.4" height="36.5" fill="#9fb2c0" /><rect x="1243.8" y="740" width="2.4" height="36.5" fill="#9fb2c0" /><rect x="1248" y="740" width="2.4" height="36.5" fill="#9fb2c0" /><rect x="1252.2" y="740" width="2.4" height="36.5" fill="#9fb2c0" /><rect x="1256.4" y="740" width="2.4" height="36.5" fill="#9fb2c0" /><rect x="1260.6" y="740" width="2.4" height="36.5" fill="#9fb2c0" /><rect x="1264.8" y="740" width="2.4" height="36.5" fill="#9fb2c0" /><rect x="1269" y="740" width="2.4" height="36.5" fill="#9fb2c0" /><rect x="1223.4" y="743.3" width="50.2" height="29.8" fill="#2a2a2a" /><rect x="1206.5" y="749" width="6.7" height="23.3" fill="#4e4e4e"/><rect x="1206.5" y="749" width="6.7" height="3.6" fill="#f2f2f2"/><rect x="1206.5" y="768.7" width="6.7" height="3.6" fill="#f2f2f2"/><rect x="1285.3" y="749" width="6.6" height="23.3" fill="#4e4e4e"/><rect x="1285.3" y="749" width="6.6" height="3.6" fill="#f2f2f2"/><rect x="1285.3" y="768.7" width="6.6" height="3.6" fill="#f2f2f2"/><rect x="1153" y="736" width="7" height="23.5" fill="#4e4e4e"/><rect x="1153" y="736" width="7" height="3.6" fill="#f2f2f2"/><rect x="1153" y="755.9" width="7" height="3.6" fill="#f2f2f2"/><rect x="1153" y="772" width="7" height="23.5" fill="#4e4e4e"/><rect x="1153" y="772" width="7" height="3.6" fill="#f2f2f2"/><rect x="1153" y="791.9" width="7" height="3.6" fill="#f2f2f2"/><rect x="1171.2" y="736" width="7" height="23.5" fill="#4e4e4e"/><rect x="1171.2" y="736" width="7" height="3.6" fill="#f2f2f2"/><rect x="1171.2" y="755.9" width="7" height="3.6" fill="#f2f2f2"/><rect x="1171.2" y="772" width="7" height="23.5" fill="#4e4e4e"/><rect x="1171.2" y="772" width="7" height="3.6" fill="#f2f2f2"/><rect x="1171.2" y="791.9" width="7" height="3.6" fill="#f2f2f2"/><text x="1319.6" y="648.8" font-size="18.6" font-weight="normal" text-anchor="start" fill="#fff" >L</text><text x="1306" y="720.9" font-size="18.6" font-weight="normal" text-anchor="start" fill="#fff" >TX</text><text x="1304.3" y="753.9" font-size="18.6" font-weight="normal" text-anchor="start" fill="#fff" >RX</text><rect x="1343.3" y="607.3" width="22.3" height="8.3" fill="#555"/><rect x="1343.3" y="607.3" width="3.8" height="8.3" fill="#e8e8e8"/><rect x="1361.8" y="607.3" width="3.8" height="8.3" fill="#e8e8e8"/><rect x="1343.3" y="621.4" width="22.3" height="7.5" fill="#4e4e4e"/><rect x="1343.3" y="621.4" width="3.8" height="7.5" fill="#f2f2f2"/><rect x="1361.8" y="621.4" width="3.8" height="7.5" fill="#f2f2f2"/><rect x="1344" y="636.4" width="31.6" height="9.1" fill="#ececec"/><rect x="1344" y="636.4" width="4.4" height="9.1" fill="#8d8d8d"/><rect x="1371.2" y="636.4" width="4.4" height="9.1" fill="#8d8d8d"/><rect x="1343.3" y="651.3" width="22.3" height="7.4" fill="#4e4e4e"/><rect x="1343.3" y="651.3" width="3.8" height="7.4" fill="#f2f2f2"/><rect x="1361.8" y="651.3" width="3.8" height="7.4" fill="#f2f2f2"/><rect x="1343.3" y="695.2" width="22.3" height="7.5" fill="#4e4e4e"/><rect x="1343.3" y="695.2" width="3.8" height="7.5" fill="#f2f2f2"/><rect x="1361.8" y="695.2" width="3.8" height="7.5" fill="#f2f2f2"/><rect x="1340" y="711" width="32.3" height="9.9" fill="#ececec"/><rect x="1340" y="711" width="4.4" height="9.9" fill="#8d8d8d"/><rect x="1367.9" y="711" width="4.4" height="9.9" fill="#8d8d8d"/><rect x="1307.6" y="725" width="22.4" height="6.7" fill="#4e4e4e"/><rect x="1307.6" y="725" width="3.8" height="6.7" fill="#f2f2f2"/><rect x="1326.2" y="725" width="3.8" height="6.7" fill="#f2f2f2"/><rect x="1341.6" y="725" width="23.2" height="6.7" fill="#4e4e4e"/><rect x="1341.6" y="725" width="3.9" height="6.7" fill="#f2f2f2"/><rect x="1360.9" y="725" width="3.9" height="6.7" fill="#f2f2f2"/><rect x="1341.6" y="740.8" width="31.4" height="9.9" fill="#ececec"/><rect x="1341.6" y="740.8" width="4.4" height="9.9" fill="#8d8d8d"/><rect x="1368.6" y="740.8" width="4.4" height="9.9" fill="#8d8d8d"/><rect x="1346.6" y="772.3" width="15.7" height="44.6" fill="#4a4a4a"/><rect x="1346.6" y="772.3" width="15.7" height="7" fill="#d9d9d9"/><rect x="1346.6" y="809.9" width="15.7" height="7" fill="#d9d9d9"/><rect x="1362.3" y="836.2" width="24" height="7.3" fill="#4e4e4e"/><rect x="1362.3" y="836.2" width="4.1" height="7.3" fill="#f2f2f2"/><rect x="1382.2" y="836.2" width="4.1" height="7.3" fill="#f2f2f2"/><rect x="1396.8" y="833" width="30.7" height="15.5" fill="#4a4a4a"/><rect x="1396.8" y="833" width="5" height="15.5" fill="#f0f0f0"/><rect x="1422.5" y="833" width="5" height="15.5" fill="#f0f0f0"/><rect x="1396.8" y="860.9" width="30.7" height="15.3" fill="#4a4a4a"/><rect x="1396.8" y="860.9" width="5" height="15.3" fill="#f0f0f0"/><rect x="1422.5" y="860.9" width="5" height="15.3" fill="#f0f0f0"/><rect x="1396.8" y="885" width="30.7" height="15.8" fill="#4a4a4a"/><rect x="1396.8" y="885" width="5" height="15.8" fill="#f0f0f0"/><rect x="1422.5" y="885" width="5" height="15.8" fill="#f0f0f0"/><rect x="1396.8" y="914.2" width="30.7" height="15" fill="#4a4a4a"/><rect x="1396.8" y="914.2" width="5" height="15" fill="#f0f0f0"/><rect x="1422.5" y="914.2" width="5" height="15" fill="#f0f0f0"/><rect x="1302.2" y="857.2" width="6.6" height="19.8" fill="#4e4e4e"/><rect x="1302.2" y="857.2" width="6.6" height="3.4" fill="#f2f2f2"/><rect x="1302.2" y="873.6" width="6.6" height="3.4" fill="#f2f2f2"/><rect x="1331.4" y="856.5" width="7.5" height="22.9" fill="#4e4e4e"/><rect x="1331.4" y="856.5" width="7.5" height="3.8" fill="#f2f2f2"/><rect x="1331.4" y="875.6" width="7.5" height="3.8" fill="#f2f2f2"/><rect x="1347.7" y="856.5" width="7" height="22.9" fill="#4e4e4e"/><rect x="1347.7" y="856.5" width="7" height="3.8" fill="#f2f2f2"/><rect x="1347.7" y="875.6" width="7" height="3.8" fill="#f2f2f2"/><rect x="1361.5" y="856.5" width="7.1" height="22.9" fill="#4e4e4e"/><rect x="1361.5" y="856.5" width="7.1" height="3.8" fill="#f2f2f2"/><rect x="1361.5" y="875.6" width="7.1" height="3.8" fill="#f2f2f2"/><rect x="1377.3" y="856.5" width="7.9" height="22.9" fill="#4e4e4e"/><rect x="1377.3" y="856.5" width="7.9" height="3.8" fill="#f2f2f2"/><rect x="1377.3" y="875.6" width="7.9" height="3.8" fill="#f2f2f2"/><rect x="1302.2" y="888.4" width="6.6" height="19.5" fill="#4e4e4e"/><rect x="1302.2" y="888.4" width="6.6" height="3.2" fill="#f2f2f2"/><rect x="1302.2" y="904.7" width="6.6" height="3.2" fill="#f2f2f2"/><rect x="1302.2" y="917.8" width="6.6" height="20.2" fill="#4e4e4e"/><rect x="1302.2" y="917.8" width="6.6" height="3.2" fill="#f2f2f2"/><rect x="1302.2" y="934.8" width="6.6" height="3.2" fill="#f2f2f2"/><rect x="1318" y="888.4" width="6.6" height="19.5" fill="#4e4e4e"/><rect x="1318" y="888.4" width="6.6" height="3.2" fill="#f2f2f2"/><rect x="1318" y="904.7" width="6.6" height="3.2" fill="#f2f2f2"/><rect x="1318" y="917.8" width="6.6" height="20.2" fill="#4e4e4e"/><rect x="1318" y="917.8" width="6.6" height="3.2" fill="#f2f2f2"/><rect x="1318" y="934.8" width="6.6" height="3.2" fill="#f2f2f2"/><rect x="1333" y="890.5" width="53" height="40.3" fill="#54555a" /><rect x="1301.4" y="959.3" width="18.2" height="29.3" fill="#454545"/><rect x="1301.4" y="959.3" width="18.2" height="4.2" fill="#efefef"/><rect x="1301.4" y="984.4" width="18.2" height="4.2" fill="#efefef"/><rect x="1328.3" y="959.3" width="18.2" height="29.3" fill="#454545"/><rect x="1328.3" y="959.3" width="18.2" height="4.2" fill="#efefef"/><rect x="1328.3" y="984.4" width="18.2" height="4.2" fill="#efefef"/><rect x="1365.4" y="970.4" width="54.8" height="17.4" fill="#cfcfcf" /><rect x="1369.4" y="952.6" width="46.8" height="54.8" fill="#a27363" stroke="#b5632c" stroke-width="2.4"/><circle cx="1382.5" cy="974" r="2.6" fill="#c9a89c"/><rect x="999" y="814.6" width="280.2" height="205.7" fill="#565656" /><rect x="1086.4" y="821" width="186.3" height="194.5" fill="#cfcfcf" /><text transform="translate(1121.5,975) rotate(-90) scale(0.92,1)" font-size="24.6" font-weight="normal" text-anchor="start" fill="#222" >ESPRESSIF</text><text transform="translate(1152,996) rotate(-90) scale(1.0,1)" font-size="20" font-weight="normal" text-anchor="start" fill="#222" >ESP32-S3-MINI-1</text><rect x="975.8" y="1043.7" width="35.8" height="119.5" fill="#212121" /><rect x="977.5" y="1045" width="34.1" height="4.6" fill="#4c4c4c" /><rect x="975.8" y="1157.7" width="35.8" height="5.5" fill="#0a0a0a" /><rect x="1011.4" y="1048.5" width="140.9" height="109.2" fill="#262626" /><rect x="1011.4" y="1048.5" width="140.9" height="8.7" fill="#4a4a4a" /><rect x="1011.4" y="1149.8" width="140.9" height="7.9" fill="#000" /><path d="M1011.4,1064 C1070,1062 1100,1082 1100,1102 C1100,1124 1070,1142 1011.4,1141 Z" fill="#1f1f1f"/><rect x="1152.3" y="1089.6" width="8.7" height="26.9" fill="#454545" /><rect x="1225.7" y="1052.7" width="17.8" height="29.3" fill="#4a4a4a"/><rect x="1225.7" y="1052.7" width="17.8" height="4.6" fill="#ededed"/><rect x="1225.7" y="1077.4" width="17.8" height="4.6" fill="#ededed"/><rect x="1198" y="1069" width="16.4" height="51.8" fill="#4a4a4a"/><rect x="1198" y="1069" width="16.4" height="7" fill="#e6e6e6"/><rect x="1198" y="1113.8" width="16.4" height="7" fill="#e6e6e6"/><rect x="1316.5" y="1034.5" width="19.5" height="11.5" fill="#8a97a0" /><rect x="1345.6" y="1034.5" width="19.4" height="11.5" fill="#8a97a0" /><rect x="1374.8" y="1034.5" width="16.2" height="11.5" fill="#8a97a0" /><rect x="1331" y="1080" width="42" height="44.4" fill="#9a9a9a" /><rect x="1310" y="1044.6" width="85.8" height="37.4" fill="#151515" /><rect x="1316" y="1046.8" width="74" height="32.2" fill="#4a4a4a" /><ellipse cx="1374" cy="1055" rx="5.4" ry="3.4" fill="#1c1c1c"/><rect x="1409.6" y="1026.5" width="16.8" height="29.5" fill="#4a4a4a"/><rect x="1409.6" y="1026.5" width="16.8" height="4.6" fill="#e9e9e9"/><rect x="1409.6" y="1051.4" width="16.8" height="4.6" fill="#e9e9e9"/><rect x="1223.2" y="1158.8" width="31" height="31" rx="8" fill="#434141"/><rect x="1257.2" y="1158.8" width="31" height="31" rx="8" fill="#434141"/><rect x="1291.2" y="1158.8" width="31" height="31" rx="8" fill="#434141"/><rect x="1238.7" y="1161.3" width="68" height="26" fill="#434141" /><rect x="1231.1" y="1166.7" width="15.2" height="15.2" fill="#d9492f"/><rect x="1234.7" y="1170.3" width="8" height="8" fill="#fff" opacity="0.15"/><rect x="1265.1" y="1166.7" width="15.2" height="15.2" fill="#3fae3a"/><rect x="1268.7" y="1170.3" width="8" height="8" fill="#fff" opacity="0.15"/><rect x="1299.1" y="1166.7" width="15.2" height="15.2" fill="#d9492f"/><rect x="1302.7" y="1170.3" width="8" height="8" fill="#fff" opacity="0.15"/>
<path d="M1477.9,658.9 C1465.9,641.9 1455.9,633.4 1444.9,633.4 A24.5,25.5 0 1 0 1444.9,684.4 C1455.9,684.4 1465.9,675.9 1477.9,658.9 C1489.9,641.9 1499.9,633.4 1510.9,633.4 A24.5,25.5 0 1 1 1510.9,684.4 C1499.9,684.4 1489.9,675.9 1477.9,658.9 Z" fill="none" stroke="#fff" stroke-width="9.4"/><rect x="1437.3" y="654.6" width="19.9" height="8.2" fill="#fff" /><rect x="1498.6" y="654.8" width="20" height="8" fill="#fff" /><rect x="1504.6" y="649" width="8" height="19.4" fill="#fff" /><text x="1414.9" y="719.6" font-size="26.4" font-weight="bold" text-anchor="start" fill="#fff" textLength="125.2" lengthAdjust="spacingAndGlyphs">ARDUINO</text><rect x="1406.6" y="737.4" width="83.4" height="38.8" fill="#fff" /><rect x="1490" y="738.6" width="54" height="38.4" fill="none" stroke="#e8f2f8" stroke-width="2.4"/><text x="1420.4" y="766.9" font-size="26.5" font-weight="bold" text-anchor="start" fill="#000" >UNO</text><text x="1502.6" y="766.9" font-size="26.5" font-weight="bold" text-anchor="start" fill="#fff" >R4</text><rect x="1407.8" y="778.6" width="94.8" height="32.8" fill="none" stroke="#e8f2f8" stroke-width="2.4"/><text x="1423.6" y="804.2" font-size="26.5" font-weight="bold" text-anchor="start" fill="#fff" >WIFI</text><rect x="1664.4" y="646.4" width="2.9" height="159.3" fill="#8ea6b8" /><rect x="1671" y="646.4" width="2.9" height="159.3" fill="#8ea6b8" /><rect x="1677.5" y="646.4" width="2.9" height="159.3" fill="#8ea6b8" /><rect x="1684.1" y="646.4" width="2.9" height="159.3" fill="#8ea6b8" /><rect x="1690.7" y="646.4" width="2.9" height="159.3" fill="#8ea6b8" /><rect x="1697.2" y="646.4" width="2.9" height="159.3" fill="#8ea6b8" /><rect x="1703.8" y="646.4" width="2.9" height="159.3" fill="#8ea6b8" /><rect x="1710.4" y="646.4" width="2.9" height="159.3" fill="#8ea6b8" /><rect x="1717" y="646.4" width="2.9" height="159.3" fill="#8ea6b8" /><rect x="1723.5" y="646.4" width="2.9" height="159.3" fill="#8ea6b8" /><rect x="1730.1" y="646.4" width="2.9" height="159.3" fill="#8ea6b8" /><rect x="1736.7" y="646.4" width="2.9" height="159.3" fill="#8ea6b8" /><rect x="1743.2" y="646.4" width="2.9" height="159.3" fill="#8ea6b8" /><rect x="1749.8" y="646.4" width="2.9" height="159.3" fill="#8ea6b8" /><rect x="1756.4" y="646.4" width="2.9" height="159.3" fill="#8ea6b8" /><rect x="1763" y="646.4" width="2.9" height="159.3" fill="#8ea6b8" /><rect x="1635.9" y="678" width="160.4" height="2.9" fill="#8ea6b8" /><rect x="1635.9" y="684.5" width="160.4" height="2.9" fill="#8ea6b8" /><rect x="1635.9" y="691" width="160.4" height="2.9" fill="#8ea6b8" /><rect x="1635.9" y="697.5" width="160.4" height="2.9" fill="#8ea6b8" /><rect x="1635.9" y="704" width="160.4" height="2.9" fill="#8ea6b8" /><rect x="1635.9" y="710.5" width="160.4" height="2.9" fill="#8ea6b8" /><rect x="1635.9" y="717" width="160.4" height="2.9" fill="#8ea6b8" /><rect x="1635.9" y="723.5" width="160.4" height="2.9" fill="#8ea6b8" /><rect x="1635.9" y="730" width="160.4" height="2.9" fill="#8ea6b8" /><rect x="1635.9" y="736.5" width="160.4" height="2.9" fill="#8ea6b8" /><rect x="1635.9" y="743" width="160.4" height="2.9" fill="#8ea6b8" /><rect x="1635.9" y="749.5" width="160.4" height="2.9" fill="#8ea6b8" /><rect x="1635.9" y="756" width="160.4" height="2.9" fill="#8ea6b8" /><rect x="1635.9" y="762.5" width="160.4" height="2.9" fill="#8ea6b8" /><rect x="1635.9" y="769" width="160.4" height="2.9" fill="#8ea6b8" /><rect x="1635.9" y="775.5" width="160.4" height="2.9" fill="#8ea6b8" /><rect x="1658.1" y="669.6" width="113.5" height="112.9" fill="#2e2e2e" /><path d="M1771.6,669.6 L1764.6,676.6 L1764.6,775.5 L1771.6,782.5 Z" fill="#000"/><path d="M1658.1,782.5 L1665.1,775.5 L1764.6,775.5 L1771.6,782.5 Z" fill="#1a1a1a"/><path d="M1658.1,669.6 L1665.1,676.6 L1665.1,775.5 L1658.1,782.5 Z" fill="#3a3a3a"/><circle cx="1746.3" cy="694.3" r="8" fill="#1d1d1d"/><rect x="1612.7" y="629" width="23.2" height="6.8" fill="#8f8f8f" /><rect x="1603.6" y="642.8" width="28.7" height="8.9" fill="#4e4e4e"/><rect x="1603.6" y="642.8" width="4.9" height="8.9" fill="#f2f2f2"/><rect x="1627.4" y="642.8" width="4.9" height="8.9" fill="#f2f2f2"/><rect x="1788.9" y="629" width="22.1" height="6.8" fill="#8f8f8f" /><rect x="1786.8" y="642.8" width="29.1" height="8.9" fill="#4e4e4e"/><rect x="1786.8" y="642.8" width="4.9" height="8.9" fill="#f2f2f2"/><rect x="1811" y="642.8" width="4.9" height="8.9" fill="#f2f2f2"/><rect x="1589.5" y="673.2" width="24.3" height="7.6" fill="#4e4e4e"/><rect x="1589.5" y="673.2" width="4.1" height="7.6" fill="#f2f2f2"/><rect x="1609.7" y="673.2" width="4.1" height="7.6" fill="#f2f2f2"/><rect x="1582.1" y="690.7" width="29.6" height="9.1" fill="#4e4e4e"/><rect x="1582.1" y="690.7" width="5" height="9.1" fill="#f2f2f2"/><rect x="1606.7" y="690.7" width="5" height="9.1" fill="#f2f2f2"/><rect x="1589.5" y="708.2" width="24.3" height="7.2" fill="#4e4e4e"/><rect x="1589.5" y="708.2" width="4.1" height="7.2" fill="#f2f2f2"/><rect x="1609.7" y="708.2" width="4.1" height="7.2" fill="#f2f2f2"/><rect x="1589.5" y="722.8" width="24.3" height="7.4" fill="#4e4e4e"/><rect x="1589.5" y="722.8" width="4.1" height="7.4" fill="#f2f2f2"/><rect x="1609.7" y="722.8" width="4.1" height="7.4" fill="#f2f2f2"/><rect x="1589.5" y="754" width="24.3" height="7.4" fill="#4e4e4e"/><rect x="1589.5" y="754" width="4.1" height="7.4" fill="#f2f2f2"/><rect x="1609.7" y="754" width="4.1" height="7.4" fill="#f2f2f2"/><rect x="1589.5" y="768.3" width="24.3" height="7.4" fill="#4e4e4e"/><rect x="1589.5" y="768.3" width="4.1" height="7.4" fill="#f2f2f2"/><rect x="1609.7" y="768.3" width="4.1" height="7.4" fill="#f2f2f2"/><rect x="1580" y="799.4" width="31.7" height="9.5" fill="#4e4e4e"/><rect x="1580" y="799.4" width="5.4" height="9.5" fill="#f2f2f2"/><rect x="1606.3" y="799.4" width="5.4" height="9.5" fill="#f2f2f2"/><rect x="1806.2" y="719.2" width="29.1" height="9.5" fill="#4e4e4e"/><rect x="1806.2" y="719.2" width="4.9" height="9.5" fill="#f2f2f2"/><rect x="1830.4" y="719.2" width="4.9" height="9.5" fill="#f2f2f2"/><text x="1841.7" y="693.9" font-size="24" font-weight="normal" text-anchor="start" fill="#fff" >ON</text><g transform="translate(1876.4,673.8) rotate(45)"><rect x="-17" y="-4.2" width="34" height="8.4" fill="#7d7d7d"/><rect x="-12" y="-4.2" width="24" height="8.4" fill="#f2f2f2"/><rect x="-17" y="-4.2" width="34" height="1.6" fill="#3a3a3a"/></g><text x="1848" y="776.2" font-size="20.4" font-weight="normal" text-anchor="start" fill="#fff" textLength="44.3" lengthAdjust="spacingAndGlyphs">ICSP</text><rect x="1839.1" y="782.5" width="66.90000000000009" height="31.6" rx="9" fill="#414141"/><rect x="1839.1" y="817.3" width="66.90000000000009" height="31.7" rx="9" fill="#414141"/><rect x="1839.1" y="851" width="63.90000000000009" height="30.7" rx="9" fill="#414141"/><rect x="1842" y="800" width="58" height="60" fill="#414141" /><rect x="1902.9" y="852.1" width="18.4" height="28.5" fill="#fff" /><rect x="1847.3" y="790.9" width="14.8" height="14.8" fill="#d9492f"/><rect x="1850.7" y="794.3" width="8" height="8" fill="#fff" opacity="0.15"/><rect x="1881.7" y="790.9" width="14.8" height="14.8" fill="#3fae3a"/><rect x="1885.1" y="794.3" width="8" height="8" fill="#fff" opacity="0.15"/><rect x="1847.3" y="825.3" width="14.8" height="14.8" fill="#d9492f"/><rect x="1850.7" y="828.7" width="8" height="8" fill="#fff" opacity="0.15"/><rect x="1881.7" y="825.3" width="14.8" height="14.8" fill="#d9492f"/><rect x="1885.1" y="828.7" width="8" height="8" fill="#fff" opacity="0.15"/><rect x="1847.3" y="859.1" width="14.8" height="14.8" fill="#d9492f"/><rect x="1850.7" y="862.5" width="8" height="8" fill="#fff" opacity="0.15"/><rect x="1881.7" y="859.1" width="14.8" height="14.8" fill="#3fae3a"/><rect x="1885.1" y="862.5" width="8" height="8" fill="#fff" opacity="0.15"/><g transform="translate(1806.5,853.8) rotate(-42)"><rect x="-9.6" y="-3.2" width="19.2" height="6.4" rx="1" fill="#4a4a4a"/><rect x="6.2" y="-3.2" width="3.4" height="6.4" fill="#8a8a8a"/></g><g transform="translate(1806.5,873.2) rotate(-42)"><rect x="-9.6" y="-3.2" width="19.2" height="6.4" rx="1" fill="#4a4a4a"/><rect x="6.2" y="-3.2" width="3.4" height="6.4" fill="#8a8a8a"/></g><g transform="translate(1806.5,892.6) rotate(-42)"><rect x="-9.6" y="-3.2" width="19.2" height="6.4" rx="1" fill="#4a4a4a"/><rect x="6.2" y="-3.2" width="3.4" height="6.4" fill="#8a8a8a"/></g><g transform="translate(1806.5,912) rotate(-42)"><rect x="-9.6" y="-3.2" width="19.2" height="6.4" rx="1" fill="#4a4a4a"/><rect x="6.2" y="-3.2" width="3.4" height="6.4" fill="#8a8a8a"/></g><g transform="translate(1806.5,931.4) rotate(-42)"><rect x="-9.6" y="-3.2" width="19.2" height="6.4" rx="1" fill="#4a4a4a"/><rect x="6.2" y="-3.2" width="3.4" height="6.4" fill="#8a8a8a"/></g><g transform="translate(1806.5,950.8) rotate(-42)"><rect x="-9.6" y="-3.2" width="19.2" height="6.4" rx="1" fill="#4a4a4a"/><rect x="6.2" y="-3.2" width="3.4" height="6.4" fill="#8a8a8a"/></g><g transform="translate(1806.5,970.2) rotate(-42)"><rect x="-9.6" y="-3.2" width="19.2" height="6.4" rx="1" fill="#4a4a4a"/><rect x="6.2" y="-3.2" width="3.4" height="6.4" fill="#8a8a8a"/></g><g transform="translate(1806.5,989.6) rotate(-42)"><rect x="-9.6" y="-3.2" width="19.2" height="6.4" rx="1" fill="#4a4a4a"/><rect x="6.2" y="-3.2" width="3.4" height="6.4" fill="#8a8a8a"/></g><g transform="translate(1806.5,1009) rotate(-42)"><rect x="-9.6" y="-3.2" width="19.2" height="6.4" rx="1" fill="#4a4a4a"/><rect x="6.2" y="-3.2" width="3.4" height="6.4" fill="#8a8a8a"/></g><g transform="translate(1806.5,1028.4) rotate(-42)"><rect x="-9.6" y="-3.2" width="19.2" height="6.4" rx="1" fill="#4a4a4a"/><rect x="6.2" y="-3.2" width="3.4" height="6.4" fill="#8a8a8a"/></g><g transform="translate(1806.5,1047.8) rotate(-42)"><rect x="-9.6" y="-3.2" width="19.2" height="6.4" rx="1" fill="#4a4a4a"/><rect x="6.2" y="-3.2" width="3.4" height="6.4" fill="#8a8a8a"/></g><use href="#mled" x="1462.7" y="850.6"/><use href="#mled" x="1490.7" y="850.6"/><use href="#mled" x="1518.8" y="850.6"/><use href="#mled" x="1546.8" y="850.6"/><use href="#mled" x="1574.9" y="850.6"/><use href="#mled" x="1602.9" y="850.6"/><use href="#mled" x="1630.9" y="850.6"/><use href="#mled" x="1659" y="850.6"/><use href="#mled" x="1687" y="850.6"/><use href="#mled" x="1715.1" y="850.6"/><use href="#mled" x="1743.1" y="850.6"/><use href="#mled" x="1771.1" y="850.6"/><use href="#mled" x="1462.7" y="879.1"/><use href="#mled" x="1490.7" y="879.1"/><use href="#mled" x="1518.8" y="879.1"/><use href="#mled" x="1546.8" y="879.1"/><use href="#mled" x="1574.9" y="879.1"/><use href="#mled" x="1602.9" y="879.1"/><use href="#mled" x="1630.9" y="879.1"/><use href="#mled" x="1659" y="879.1"/><use href="#mled" x="1687" y="879.1"/><use href="#mled" x="1715.1" y="879.1"/><use href="#mled" x="1743.1" y="879.1"/><use href="#mled" x="1771.1" y="879.1"/><use href="#mled" x="1462.7" y="907.6"/><use href="#mled" x="1490.7" y="907.6"/><use href="#mled" x="1518.8" y="907.6"/><use href="#mled" x="1546.8" y="907.6"/><use href="#mled" x="1574.9" y="907.6"/><use href="#mled" x="1602.9" y="907.6"/><use href="#mled" x="1630.9" y="907.6"/><use href="#mled" x="1659" y="907.6"/><use href="#mled" x="1687" y="907.6"/><use href="#mled" x="1715.1" y="907.6"/><use href="#mled" x="1743.1" y="907.6"/><use href="#mled" x="1771.1" y="907.6"/><use href="#mled" x="1462.7" y="936.1"/><use href="#mled" x="1490.7" y="936.1"/><use href="#mled" x="1518.8" y="936.1"/><use href="#mled" x="1546.8" y="936.1"/><use href="#mled" x="1574.9" y="936.1"/><use href="#mled" x="1602.9" y="936.1"/><use href="#mled" x="1630.9" y="936.1"/><use href="#mled" x="1659" y="936.1"/><use href="#mled" x="1687" y="936.1"/><use href="#mled" x="1715.1" y="936.1"/><use href="#mled" x="1743.1" y="936.1"/><use href="#mled" x="1771.1" y="936.1"/><use href="#mled" x="1462.7" y="964.6"/><use href="#mled" x="1490.7" y="964.6"/><use href="#mled" x="1518.8" y="964.6"/><use href="#mled" x="1546.8" y="964.6"/><use href="#mled" x="1574.9" y="964.6"/><use href="#mled" x="1602.9" y="964.6"/><use href="#mled" x="1630.9" y="964.6"/><use href="#mled" x="1659" y="964.6"/><use href="#mled" x="1687" y="964.6"/><use href="#mled" x="1715.1" y="964.6"/><use href="#mled" x="1743.1" y="964.6"/><use href="#mled" x="1771.1" y="964.6"/><use href="#mled" x="1462.7" y="993.1"/><use href="#mled" x="1490.7" y="993.1"/><use href="#mled" x="1518.8" y="993.1"/><use href="#mled" x="1546.8" y="993.1"/><use href="#mled" x="1574.9" y="993.1"/><use href="#mled" x="1602.9" y="993.1"/><use href="#mled" x="1630.9" y="993.1"/><use href="#mled" x="1659" y="993.1"/><use href="#mled" x="1687" y="993.1"/><use href="#mled" x="1715.1" y="993.1"/><use href="#mled" x="1743.1" y="993.1"/><use href="#mled" x="1771.1" y="993.1"/><use href="#mled" x="1462.7" y="1021.6"/><use href="#mled" x="1490.7" y="1021.6"/><use href="#mled" x="1518.8" y="1021.6"/><use href="#mled" x="1546.8" y="1021.6"/><use href="#mled" x="1574.9" y="1021.6"/><use href="#mled" x="1602.9" y="1021.6"/><use href="#mled" x="1630.9" y="1021.6"/><use href="#mled" x="1659" y="1021.6"/><use href="#mled" x="1687" y="1021.6"/><use href="#mled" x="1715.1" y="1021.6"/><use href="#mled" x="1743.1" y="1021.6"/><use href="#mled" x="1771.1" y="1021.6"/><use href="#mled" x="1462.7" y="1050.1"/><use href="#mled" x="1490.7" y="1050.1"/><use href="#mled" x="1518.8" y="1050.1"/><use href="#mled" x="1546.8" y="1050.1"/><use href="#mled" x="1574.9" y="1050.1"/><use href="#mled" x="1602.9" y="1050.1"/><use href="#mled" x="1630.9" y="1050.1"/><use href="#mled" x="1659" y="1050.1"/><use href="#mled" x="1687" y="1050.1"/><use href="#mled" x="1715.1" y="1050.1"/><use href="#mled" x="1743.1" y="1050.1"/><use href="#mled" x="1771.1" y="1050.1"/><rect x="1840.7" y="890.6" width="6.6" height="21.4" fill="#4a4a4a"/><rect x="1840.7" y="890.6" width="6.6" height="3.2" fill="#e9e9e9"/><rect x="1840.7" y="908.8" width="6.6" height="3.2" fill="#e9e9e9"/><rect x="1856.3" y="890.6" width="6.6" height="21.4" fill="#4a4a4a"/><rect x="1856.3" y="890.6" width="6.6" height="3.2" fill="#e9e9e9"/><rect x="1856.3" y="908.8" width="6.6" height="3.2" fill="#e9e9e9"/><rect x="1829.4" y="918.6" width="13" height="5.8" fill="#8f9aa2" /><rect x="1853.7" y="918.6" width="13" height="5.8" fill="#8f9aa2" /><rect x="1841.9" y="946" width="12" height="6.6" fill="#8f9aa2" /><rect x="1829.4" y="923.2" width="37.3" height="24.3" fill="#141414" /><rect x="1831.8" y="924.6" width="32.5" height="21.4" fill="#474747" /><rect x="1854.9" y="927.4" width="5.4" height="3.6" rx="1.5" fill="#151515"/><rect x="1884.7" y="890.6" width="6.6" height="21.4" fill="#4a4a4a"/><rect x="1884.7" y="890.6" width="6.6" height="3.2" fill="#e9e9e9"/><rect x="1884.7" y="908.8" width="6.6" height="3.2" fill="#e9e9e9"/><rect x="1902.2" y="890.6" width="6.6" height="21.4" fill="#4a4a4a"/><rect x="1902.2" y="890.6" width="6.6" height="3.2" fill="#e9e9e9"/><rect x="1902.2" y="908.8" width="6.6" height="3.2" fill="#e9e9e9"/><rect x="1878" y="918.6" width="13" height="5.8" fill="#8f9aa2" /><rect x="1902.3" y="918.6" width="13" height="5.8" fill="#8f9aa2" /><rect x="1890.5" y="946" width="12" height="6.6" fill="#8f9aa2" /><rect x="1878" y="923.2" width="37.3" height="24.3" fill="#141414" /><rect x="1880.4" y="924.6" width="32.5" height="21.4" fill="#474747" /><rect x="1903.5" y="927.4" width="5.4" height="3.6" rx="1.5" fill="#151515"/><rect x="1844" y="990.9" width="21" height="7.2" fill="#9a9a9a" /><rect x="1844" y="1004.8" width="21" height="7.2" fill="#9a9a9a" /><rect x="1844" y="1018.4" width="21" height="7.2" fill="#9a9a9a" /><rect x="1844" y="1032" width="21" height="7.2" fill="#9a9a9a" /><rect x="1864.1" y="975" width="59.3" height="82.7" fill="#fce9a9" /><rect x="1912.5" y="991.4" width="9.1" height="9.2" fill="#f08a5a" /><rect x="1912.5" y="1005" width="9.1" height="9.2" fill="#f08a5a" /><rect x="1912.5" y="1018.2" width="9.1" height="9.2" fill="#f08a5a" /><rect x="1912.5" y="1031.8" width="9.1" height="9.2" fill="#a3e26a" />
<rect x="1234.6" y="508.6" width="339.2" height="33" fill="#545454" /><rect x="1239.5" y="513.2" width="23" height="24" fill="#5e5e5e"/><rect x="1242" y="515.7" width="18" height="3" fill="#4a4a4a"/><rect x="1242" y="532.2" width="18" height="3" fill="#6e6e6e"/><rect x="1243.8" y="518.4" width="14.4" height="13.6" fill="#7a0606"/><circle cx="1251" cy="525.2" r="4.2" fill="#000" opacity="0.18"/><rect x="1244" y="505.4" width="14" height="1.6" fill="#2d77a8"/><rect x="1244" y="543.2" width="14" height="1.6" fill="#2d77a8"/><rect x="1273.8" y="513.2" width="23" height="24" fill="#5e5e5e"/><rect x="1276.3" y="515.7" width="18" height="3" fill="#4a4a4a"/><rect x="1276.3" y="532.2" width="18" height="3" fill="#6e6e6e"/><rect x="1278.1" y="518.4" width="14.4" height="13.6" fill="#7a0606"/><circle cx="1285.3" cy="525.2" r="4.2" fill="#000" opacity="0.18"/><rect x="1278.3" y="505.4" width="14" height="1.6" fill="#2d77a8"/><rect x="1278.3" y="543.2" width="14" height="1.6" fill="#2d77a8"/><rect x="1308.1" y="513.2" width="23" height="24" fill="#5e5e5e"/><rect x="1310.6" y="515.7" width="18" height="3" fill="#4a4a4a"/><rect x="1310.6" y="532.2" width="18" height="3" fill="#6e6e6e"/><rect x="1312.4" y="518.4" width="14.4" height="13.6" fill="#7a0606"/><circle cx="1319.6" cy="525.2" r="4.2" fill="#000" opacity="0.18"/><rect x="1312.6" y="505.4" width="14" height="1.6" fill="#2d77a8"/><rect x="1312.6" y="543.2" width="14" height="1.6" fill="#2d77a8"/><rect x="1342.4" y="513.2" width="23" height="24" fill="#5e5e5e"/><rect x="1344.9" y="515.7" width="18" height="3" fill="#4a4a4a"/><rect x="1344.9" y="532.2" width="18" height="3" fill="#6e6e6e"/><rect x="1346.7" y="518.4" width="14.4" height="13.6" fill="#7a0606"/><circle cx="1353.9" cy="525.2" r="4.2" fill="#000" opacity="0.18"/><rect x="1346.9" y="505.4" width="14" height="1.6" fill="#2d77a8"/><rect x="1346.9" y="543.2" width="14" height="1.6" fill="#2d77a8"/><rect x="1376.7" y="513.2" width="23" height="24" fill="#5e5e5e"/><rect x="1379.2" y="515.7" width="18" height="3" fill="#4a4a4a"/><rect x="1379.2" y="532.2" width="18" height="3" fill="#6e6e6e"/><rect x="1381" y="518.4" width="14.4" height="13.6" fill="#7a0606"/><circle cx="1388.2" cy="525.2" r="4.2" fill="#000" opacity="0.18"/><rect x="1381.2" y="505.4" width="14" height="1.6" fill="#2d77a8"/><rect x="1381.2" y="543.2" width="14" height="1.6" fill="#2d77a8"/><rect x="1411" y="513.2" width="23" height="24" fill="#5e5e5e"/><rect x="1413.5" y="515.7" width="18" height="3" fill="#4a4a4a"/><rect x="1413.5" y="532.2" width="18" height="3" fill="#6e6e6e"/><rect x="1415.2" y="518.4" width="14.4" height="13.6" fill="#7a0606"/><circle cx="1422.5" cy="525.2" r="4.2" fill="#000" opacity="0.18"/><rect x="1415.5" y="505.4" width="14" height="1.6" fill="#2d77a8"/><rect x="1415.5" y="543.2" width="14" height="1.6" fill="#2d77a8"/><rect x="1445.2" y="513.2" width="23" height="24" fill="#5e5e5e"/><rect x="1447.7" y="515.7" width="18" height="3" fill="#4a4a4a"/><rect x="1447.7" y="532.2" width="18" height="3" fill="#6e6e6e"/><rect x="1449.5" y="518.4" width="14.4" height="13.6" fill="#7a0606"/><circle cx="1456.7" cy="525.2" r="4.2" fill="#000" opacity="0.18"/><rect x="1449.7" y="505.4" width="14" height="1.6" fill="#2d77a8"/><rect x="1449.7" y="543.2" width="14" height="1.6" fill="#2d77a8"/><rect x="1479.5" y="513.2" width="23" height="24" fill="#5e5e5e"/><rect x="1482" y="515.7" width="18" height="3" fill="#4a4a4a"/><rect x="1482" y="532.2" width="18" height="3" fill="#6e6e6e"/><rect x="1483.8" y="518.4" width="14.4" height="13.6" fill="#7a0606"/><circle cx="1491" cy="525.2" r="4.2" fill="#000" opacity="0.18"/><rect x="1484" y="505.4" width="14" height="1.6" fill="#2d77a8"/><rect x="1484" y="543.2" width="14" height="1.6" fill="#2d77a8"/><rect x="1513.8" y="513.2" width="23" height="24" fill="#5e5e5e"/><rect x="1516.3" y="515.7" width="18" height="3" fill="#4a4a4a"/><rect x="1516.3" y="532.2" width="18" height="3" fill="#6e6e6e"/><rect x="1518.1" y="518.4" width="14.4" height="13.6" fill="#7a0606"/><circle cx="1525.3" cy="525.2" r="4.2" fill="#000" opacity="0.18"/><rect x="1518.3" y="505.4" width="14" height="1.6" fill="#2d77a8"/><rect x="1518.3" y="543.2" width="14" height="1.6" fill="#2d77a8"/><rect x="1548.1" y="513.2" width="23" height="24" fill="#5e5e5e"/><rect x="1550.6" y="515.7" width="18" height="3" fill="#4a4a4a"/><rect x="1550.6" y="532.2" width="18" height="3" fill="#6e6e6e"/><rect x="1552.4" y="518.4" width="14.4" height="13.6" fill="#7a0606"/><circle cx="1559.6" cy="525.2" r="4.2" fill="#000" opacity="0.18"/><rect x="1552.6" y="505.4" width="14" height="1.6" fill="#2d77a8"/><rect x="1552.6" y="543.2" width="14" height="1.6" fill="#2d77a8"/><rect x="1596.6" y="508.6" width="273" height="33" fill="#545454" /><rect x="1602.1" y="513.2" width="23" height="24" fill="#5e5e5e"/><rect x="1604.6" y="515.7" width="18" height="3" fill="#4a4a4a"/><rect x="1604.6" y="532.2" width="18" height="3" fill="#6e6e6e"/><rect x="1606.4" y="518.4" width="14.4" height="13.6" fill="#7a0606"/><circle cx="1613.6" cy="525.2" r="4.2" fill="#000" opacity="0.18"/><rect x="1606.6" y="505.4" width="14" height="1.6" fill="#2d77a8"/><rect x="1606.6" y="543.2" width="14" height="1.6" fill="#2d77a8"/><rect x="1636.4" y="513.2" width="23" height="24" fill="#5e5e5e"/><rect x="1638.9" y="515.7" width="18" height="3" fill="#4a4a4a"/><rect x="1638.9" y="532.2" width="18" height="3" fill="#6e6e6e"/><rect x="1640.7" y="518.4" width="14.4" height="13.6" fill="#7a0606"/><circle cx="1647.9" cy="525.2" r="4.2" fill="#000" opacity="0.18"/><rect x="1640.9" y="505.4" width="14" height="1.6" fill="#2d77a8"/><rect x="1640.9" y="543.2" width="14" height="1.6" fill="#2d77a8"/><rect x="1670.7" y="513.2" width="23" height="24" fill="#5e5e5e"/><rect x="1673.2" y="515.7" width="18" height="3" fill="#4a4a4a"/><rect x="1673.2" y="532.2" width="18" height="3" fill="#6e6e6e"/><rect x="1675" y="518.4" width="14.4" height="13.6" fill="#7a0606"/><circle cx="1682.2" cy="525.2" r="4.2" fill="#000" opacity="0.18"/><rect x="1675.2" y="505.4" width="14" height="1.6" fill="#2d77a8"/><rect x="1675.2" y="543.2" width="14" height="1.6" fill="#2d77a8"/><rect x="1705" y="513.2" width="23" height="24" fill="#5e5e5e"/><rect x="1707.5" y="515.7" width="18" height="3" fill="#4a4a4a"/><rect x="1707.5" y="532.2" width="18" height="3" fill="#6e6e6e"/><rect x="1709.3" y="518.4" width="14.4" height="13.6" fill="#7a0606"/><circle cx="1716.5" cy="525.2" r="4.2" fill="#000" opacity="0.18"/><rect x="1709.5" y="505.4" width="14" height="1.6" fill="#2d77a8"/><rect x="1709.5" y="543.2" width="14" height="1.6" fill="#2d77a8"/><rect x="1739.3" y="513.2" width="23" height="24" fill="#5e5e5e"/><rect x="1741.8" y="515.7" width="18" height="3" fill="#4a4a4a"/><rect x="1741.8" y="532.2" width="18" height="3" fill="#6e6e6e"/><rect x="1743.6" y="518.4" width="14.4" height="13.6" fill="#7a0606"/><circle cx="1750.8" cy="525.2" r="4.2" fill="#000" opacity="0.18"/><rect x="1743.8" y="505.4" width="14" height="1.6" fill="#2d77a8"/><rect x="1743.8" y="543.2" width="14" height="1.6" fill="#2d77a8"/><rect x="1773.5" y="513.2" width="23" height="24" fill="#5e5e5e"/><rect x="1776" y="515.7" width="18" height="3" fill="#4a4a4a"/><rect x="1776" y="532.2" width="18" height="3" fill="#6e6e6e"/><rect x="1777.8" y="518.4" width="14.4" height="13.6" fill="#7a0606"/><circle cx="1785" cy="525.2" r="4.2" fill="#000" opacity="0.18"/><rect x="1778" y="505.4" width="14" height="1.6" fill="#2d77a8"/><rect x="1778" y="543.2" width="14" height="1.6" fill="#2d77a8"/><rect x="1807.8" y="513.2" width="23" height="24" fill="#5e5e5e"/><rect x="1810.3" y="515.7" width="18" height="3" fill="#4a4a4a"/><rect x="1810.3" y="532.2" width="18" height="3" fill="#6e6e6e"/><rect x="1812.1" y="518.4" width="14.4" height="13.6" fill="#7a0606"/><circle cx="1819.3" cy="525.2" r="4.2" fill="#000" opacity="0.18"/><rect x="1812.3" y="505.4" width="14" height="1.6" fill="#2d77a8"/><rect x="1812.3" y="543.2" width="14" height="1.6" fill="#2d77a8"/><rect x="1842.1" y="513.2" width="23" height="24" fill="#5e5e5e"/><rect x="1844.6" y="515.7" width="18" height="3" fill="#4a4a4a"/><rect x="1844.6" y="532.2" width="18" height="3" fill="#6e6e6e"/><rect x="1846.4" y="518.4" width="14.4" height="13.6" fill="#7a0606"/><circle cx="1853.6" cy="525.2" r="4.2" fill="#000" opacity="0.18"/><rect x="1846.6" y="505.4" width="14" height="1.6" fill="#2d77a8"/><rect x="1846.6" y="543.2" width="14" height="1.6" fill="#2d77a8"/><rect x="1357.4" y="1158" width="273.6" height="33.4" fill="#545454" /><rect x="1363.1" y="1162.3" width="23" height="24" fill="#5e5e5e"/><rect x="1365.6" y="1164.8" width="18" height="3" fill="#4a4a4a"/><rect x="1365.6" y="1181.3" width="18" height="3" fill="#6e6e6e"/><rect x="1367.4" y="1167.5" width="14.4" height="13.6" fill="#7a0606"/><circle cx="1374.6" cy="1174.3" r="4.2" fill="#000" opacity="0.18"/><rect x="1367.6" y="1154.8" width="14" height="1.6" fill="#2d77a8"/><rect x="1367.6" y="1193" width="14" height="1.6" fill="#2d77a8"/><rect x="1397.4" y="1162.3" width="23" height="24" fill="#5e5e5e"/><rect x="1399.9" y="1164.8" width="18" height="3" fill="#4a4a4a"/><rect x="1399.9" y="1181.3" width="18" height="3" fill="#6e6e6e"/><rect x="1401.7" y="1167.5" width="14.4" height="13.6" fill="#7a0606"/><circle cx="1408.9" cy="1174.3" r="4.2" fill="#000" opacity="0.18"/><rect x="1401.9" y="1154.8" width="14" height="1.6" fill="#2d77a8"/><rect x="1401.9" y="1193" width="14" height="1.6" fill="#2d77a8"/><rect x="1431.7" y="1162.3" width="23" height="24" fill="#5e5e5e"/><rect x="1434.2" y="1164.8" width="18" height="3" fill="#4a4a4a"/><rect x="1434.2" y="1181.3" width="18" height="3" fill="#6e6e6e"/><rect x="1436" y="1167.5" width="14.4" height="13.6" fill="#7a0606"/><circle cx="1443.2" cy="1174.3" r="4.2" fill="#000" opacity="0.18"/><rect x="1436.2" y="1154.8" width="14" height="1.6" fill="#2d77a8"/><rect x="1436.2" y="1193" width="14" height="1.6" fill="#2d77a8"/><rect x="1466" y="1162.3" width="23" height="24" fill="#5e5e5e"/><rect x="1468.5" y="1164.8" width="18" height="3" fill="#4a4a4a"/><rect x="1468.5" y="1181.3" width="18" height="3" fill="#6e6e6e"/><rect x="1470.3" y="1167.5" width="14.4" height="13.6" fill="#7a0606"/><circle cx="1477.5" cy="1174.3" r="4.2" fill="#000" opacity="0.18"/><rect x="1470.5" y="1154.8" width="14" height="1.6" fill="#2d77a8"/><rect x="1470.5" y="1193" width="14" height="1.6" fill="#2d77a8"/><rect x="1500.3" y="1162.3" width="23" height="24" fill="#5e5e5e"/><rect x="1502.8" y="1164.8" width="18" height="3" fill="#4a4a4a"/><rect x="1502.8" y="1181.3" width="18" height="3" fill="#6e6e6e"/><rect x="1504.6" y="1167.5" width="14.4" height="13.6" fill="#7a0606"/><circle cx="1511.8" cy="1174.3" r="4.2" fill="#000" opacity="0.18"/><rect x="1504.8" y="1154.8" width="14" height="1.6" fill="#2d77a8"/><rect x="1504.8" y="1193" width="14" height="1.6" fill="#2d77a8"/><rect x="1534.5" y="1162.3" width="23" height="24" fill="#5e5e5e"/><rect x="1537" y="1164.8" width="18" height="3" fill="#4a4a4a"/><rect x="1537" y="1181.3" width="18" height="3" fill="#6e6e6e"/><rect x="1538.8" y="1167.5" width="14.4" height="13.6" fill="#0f5e14"/><circle cx="1546" cy="1174.3" r="4.2" fill="#000" opacity="0.18"/><rect x="1539" y="1154.8" width="14" height="1.6" fill="#2d77a8"/><rect x="1539" y="1193" width="14" height="1.6" fill="#2d77a8"/><rect x="1568.8" y="1162.3" width="23" height="24" fill="#5e5e5e"/><rect x="1571.3" y="1164.8" width="18" height="3" fill="#4a4a4a"/><rect x="1571.3" y="1181.3" width="18" height="3" fill="#6e6e6e"/><rect x="1573.1" y="1167.5" width="14.4" height="13.6" fill="#0f5e14"/><circle cx="1580.3" cy="1174.3" r="4.2" fill="#000" opacity="0.18"/><rect x="1573.3" y="1154.8" width="14" height="1.6" fill="#2d77a8"/><rect x="1573.3" y="1193" width="14" height="1.6" fill="#2d77a8"/><rect x="1603.1" y="1162.3" width="23" height="24" fill="#5e5e5e"/><rect x="1605.6" y="1164.8" width="18" height="3" fill="#4a4a4a"/><rect x="1605.6" y="1181.3" width="18" height="3" fill="#6e6e6e"/><rect x="1607.4" y="1167.5" width="14.4" height="13.6" fill="#7a0606"/><circle cx="1614.6" cy="1174.3" r="4.2" fill="#000" opacity="0.18"/><rect x="1607.6" y="1154.8" width="14" height="1.6" fill="#2d77a8"/><rect x="1607.6" y="1193" width="14" height="1.6" fill="#2d77a8"/><rect x="1665.6" y="1158" width="204.4" height="33.4" fill="#545454" /><rect x="1671.1" y="1162.3" width="23" height="24" fill="#5e5e5e"/><rect x="1673.6" y="1164.8" width="18" height="3" fill="#4a4a4a"/><rect x="1673.6" y="1181.3" width="18" height="3" fill="#6e6e6e"/><rect x="1675.4" y="1167.5" width="14.4" height="13.6" fill="#7a0606"/><circle cx="1682.6" cy="1174.3" r="4.2" fill="#000" opacity="0.18"/><rect x="1675.6" y="1154.8" width="14" height="1.6" fill="#2d77a8"/><rect x="1675.6" y="1193" width="14" height="1.6" fill="#2d77a8"/><rect x="1705.4" y="1162.3" width="23" height="24" fill="#5e5e5e"/><rect x="1707.9" y="1164.8" width="18" height="3" fill="#4a4a4a"/><rect x="1707.9" y="1181.3" width="18" height="3" fill="#6e6e6e"/><rect x="1709.7" y="1167.5" width="14.4" height="13.6" fill="#7a0606"/><circle cx="1716.9" cy="1174.3" r="4.2" fill="#000" opacity="0.18"/><rect x="1709.9" y="1154.8" width="14" height="1.6" fill="#2d77a8"/><rect x="1709.9" y="1193" width="14" height="1.6" fill="#2d77a8"/><rect x="1739.7" y="1162.3" width="23" height="24" fill="#5e5e5e"/><rect x="1742.2" y="1164.8" width="18" height="3" fill="#4a4a4a"/><rect x="1742.2" y="1181.3" width="18" height="3" fill="#6e6e6e"/><rect x="1744" y="1167.5" width="14.4" height="13.6" fill="#7a0606"/><circle cx="1751.2" cy="1174.3" r="4.2" fill="#000" opacity="0.18"/><rect x="1744.2" y="1154.8" width="14" height="1.6" fill="#2d77a8"/><rect x="1744.2" y="1193" width="14" height="1.6" fill="#2d77a8"/><rect x="1774" y="1162.3" width="23" height="24" fill="#5e5e5e"/><rect x="1776.5" y="1164.8" width="18" height="3" fill="#4a4a4a"/><rect x="1776.5" y="1181.3" width="18" height="3" fill="#6e6e6e"/><rect x="1778.3" y="1167.5" width="14.4" height="13.6" fill="#7a0606"/><circle cx="1785.5" cy="1174.3" r="4.2" fill="#000" opacity="0.18"/><rect x="1778.5" y="1154.8" width="14" height="1.6" fill="#2d77a8"/><rect x="1778.5" y="1193" width="14" height="1.6" fill="#2d77a8"/><rect x="1808.3" y="1162.3" width="23" height="24" fill="#5e5e5e"/><rect x="1810.8" y="1164.8" width="18" height="3" fill="#4a4a4a"/><rect x="1810.8" y="1181.3" width="18" height="3" fill="#6e6e6e"/><rect x="1812.6" y="1167.5" width="14.4" height="13.6" fill="#7a0606"/><circle cx="1819.8" cy="1174.3" r="4.2" fill="#000" opacity="0.18"/><rect x="1812.8" y="1154.8" width="14" height="1.6" fill="#2d77a8"/><rect x="1812.8" y="1193" width="14" height="1.6" fill="#2d77a8"/><rect x="1842.5" y="1162.3" width="23" height="24" fill="#5e5e5e"/><rect x="1845" y="1164.8" width="18" height="3" fill="#4a4a4a"/><rect x="1845" y="1181.3" width="18" height="3" fill="#6e6e6e"/><rect x="1846.8" y="1167.5" width="14.4" height="13.6" fill="#7a0606"/><circle cx="1854" cy="1174.3" r="4.2" fill="#000" opacity="0.18"/><rect x="1847" y="1154.8" width="14" height="1.6" fill="#2d77a8"/><rect x="1847" y="1193" width="14" height="1.6" fill="#2d77a8"/>
<circle cx="1353.9" cy="525.2" r="9.6" fill="#0e7a16"/><circle cx="1353.9" cy="525.2" r="5.6" fill="#0a4a10"/>
<circle cx="1750.8" cy="525.2" r="9" fill="#7fe01a"/>
<circle cx="1511.8" cy="1174.3" r="9.4" fill="#6f9a20"/>
<circle cx="1682.6" cy="1174.3" r="9.4" fill="#78a878"/>
<text transform="translate(1014,770) rotate(-25.6)" font-size="46" font-style="italic" font-weight="bold" fill="#fff" opacity="0.46" textLength="478" lengthAdjust="spacingAndGlyphs">https://newbiely.com</text><text transform="translate(1046,1131) rotate(-23.2)" font-size="46" font-style="italic" font-weight="bold" fill="#fff" opacity="0.46" textLength="472" lengthAdjust="spacingAndGlyphs">https://newbiely.com</text>
</g>
<g id="ldrbig">
<g id="ldrsym"><g id="ldrlegs"><path d="M152.0,560 L187.6,560 L195.6,1467 L160.0,1467 Z" fill="url(#legg)"/><path d="M430.0,560 L465.6,560 L474.1,1467 L438.5,1467 Z" fill="url(#legg)"/></g><g id="ldrbody"><path d="M29.4,443.0 C30.0,429.9 30.9,416.9 34.5,403.8 C38.1,390.7 43.6,377.7 50.9,364.6 C58.3,351.5 67.3,337.7 78.4,325.4 C89.5,313.1 103.2,301.2 117.6,290.9 C131.9,280.6 147.6,271.7 164.6,263.5 C181.6,255.3 201.2,247.6 219.5,241.5 C237.8,235.5 258.7,230.6 274.3,227.4 C290.0,224.3 300.5,223.4 313.5,222.7 C326.6,222.1 342.1,222.2 352.7,223.5 C363.3,224.8 373.0,229.4 377.0,230.6 C403.8,247.2 510.9,313.5 537.7,330.1 C541.1,334.9 553.0,348.7 558.5,358.7 C563.9,368.7 567.1,379.9 570.2,390.1 C573.3,400.2 575.6,409.3 576.9,419.5 C578.1,429.6 578.6,440.4 577.7,450.8 C576.7,461.3 574.8,471.7 571.4,482.2 C568.0,492.6 564.2,501.8 557.3,513.5 C550.4,525.3 541.0,539.6 529.8,552.7 C518.7,565.8 507.0,578.2 490.7,591.9 C474.3,605.6 451.5,623.3 431.9,635.0 C412.3,646.8 392.7,654.9 373.1,662.4 C353.5,670.0 330.8,676.0 314.3,680.1 C297.8,684.2 284.9,686.2 274.3,687.1 C263.7,688.1 260.2,687.8 250.8,686.0 C241.4,684.1 234.1,685.0 217.9,676.2 C201.7,667.3 173.3,647.4 153.6,632.7 C134.0,618.0 117.9,602.9 99.9,588.0 C82.0,573.0 56.6,555.3 45.9,542.9 C35.1,530.5 37.8,523.6 35.3,513.5 C32.7,503.4 31.5,493.9 30.6,482.2 C29.6,470.4 28.7,456.0 29.4,443.0 Z" fill="url(#wallg)"/><path d="M29.4,443.0 C30.0,429.9 30.9,416.9 34.5,403.8 C38.1,390.7 43.6,377.7 50.9,364.6 C58.3,351.5 67.3,337.7 78.4,325.4 C89.5,313.1 103.2,301.2 117.6,290.9 C131.9,280.6 147.6,271.7 164.6,263.5 C181.6,255.3 201.2,247.6 219.5,241.5 C237.8,235.5 258.7,230.6 274.3,227.4 C290.0,224.3 300.5,223.4 313.5,222.7 C326.6,222.1 342.1,222.2 352.7,223.5 C363.3,224.8 373.0,229.4 377.0,230.6 C403.8,247.2 510.9,313.5 537.7,330.1 C541.1,334.9 553.0,348.7 558.5,358.7 C563.9,368.7 567.1,379.9 570.2,390.1 C573.3,400.2 575.6,409.3 576.9,419.5 C578.1,429.6 578.6,440.4 577.7,450.8 C576.7,461.3 574.8,471.7 571.4,482.2 C568.0,492.6 564.2,501.8 557.3,513.5 C550.4,525.3 541.0,539.6 529.8,552.7 C518.7,565.8 507.0,578.2 490.7,591.9 C474.3,605.6 451.5,623.3 431.9,635.0 C412.3,646.8 392.7,654.9 373.1,662.4 C353.5,670.0 330.8,676.0 314.3,680.1 C297.8,684.2 284.9,686.2 274.3,687.1 C263.7,688.1 260.2,687.8 250.8,686.0 C241.4,684.1 234.1,685.0 217.9,676.2 C201.7,667.3 173.3,647.4 153.6,632.7 C134.0,618.0 117.9,602.9 99.9,588.0 C82.0,573.0 56.6,555.3 45.9,542.9 C35.1,530.5 37.8,523.6 35.3,513.5 C32.7,503.4 31.5,493.9 30.6,482.2 C29.6,470.4 28.7,456.0 29.4,443.0 Z" fill="url(#wallo)"/><path d="M32.9,450.8 C32.3,436.7 33.8,420.9 37.2,406.9 C40.6,392.9 46.1,380.1 53.3,366.9 C60.5,353.8 69.4,340.0 80.3,327.8 C91.2,315.5 104.5,303.6 118.7,293.3 C133.0,283.0 148.9,274.1 165.8,265.8 C182.6,257.6 201.8,249.8 219.9,243.9 C237.9,237.9 258.7,233.2 274.3,230.2 C289.9,227.1 300.6,226.1 313.5,225.5 C326.5,224.8 341.6,225.0 351.9,226.3 C362.2,227.5 371.5,231.8 375.4,232.9 C402.0,249.4 508.0,315.2 534.6,331.7 C537.8,336.3 549.1,349.4 554.1,359.1 C559.2,368.8 562.5,380.0 565.1,390.1 C567.7,400.1 569.6,409.3 569.8,419.5 C570.1,429.6 569.6,440.2 566.7,450.8 C563.8,461.4 559.0,472.2 552.6,483.0 C546.2,493.7 537.6,504.5 528.3,515.1 C519.0,525.7 509.6,535.9 496.9,546.4 C484.3,557.0 469.0,568.6 452.3,578.6 C435.5,588.5 415.8,598.2 396.6,606.0 C377.4,613.8 356.1,621.2 337.0,625.6 C318.0,630.0 299.4,632.7 282.2,632.7 C264.9,632.7 241.7,626.8 233.6,625.6 C205.7,607.4 94.4,534.8 66.6,516.7 C62.3,512.5 46.4,502.5 40.8,491.6 C35.1,480.6 33.5,464.9 32.9,450.8 Z" fill="#d9d9d6" stroke="#b9683e" stroke-width="3.4" stroke-linejoin="round"/><path d="M32.9,450.8 C32.3,436.7 33.8,420.9 37.2,406.9 C40.6,392.9 46.1,380.1 53.3,366.9 C60.5,353.8 69.4,340.0 80.3,327.8 C91.2,315.5 104.5,303.6 118.7,293.3 C133.0,283.0 148.9,274.1 165.8,265.8 C182.6,257.6 201.8,249.8 219.9,243.9 C237.9,237.9 258.7,233.2 274.3,230.2 C289.9,227.1 300.6,226.1 313.5,225.5 C326.5,224.8 341.6,225.0 351.9,226.3 C362.2,227.5 371.5,231.8 375.4,232.9 C402.0,249.4 508.0,315.2 534.6,331.7 C537.8,336.3 549.1,349.4 554.1,359.1 C559.2,368.8 562.5,380.0 565.1,390.1 C567.7,400.1 569.6,409.3 569.8,419.5 C570.1,429.6 569.6,440.2 566.7,450.8 C563.8,461.4 559.0,472.2 552.6,483.0 C546.2,493.7 537.6,504.5 528.3,515.1 C519.0,525.7 509.6,535.9 496.9,546.4 C484.3,557.0 469.0,568.6 452.3,578.6 C435.5,588.5 415.8,598.2 396.6,606.0 C377.4,613.8 356.1,621.2 337.0,625.6 C318.0,630.0 299.4,632.7 282.2,632.7 C264.9,632.7 241.7,626.8 233.6,625.6 C205.7,607.4 94.4,534.8 66.6,516.7 C62.3,512.5 46.4,502.5 40.8,491.6 C35.1,480.6 33.5,464.9 32.9,450.8 Z" fill="url(#faceg)"/><path d="M40.8,491.6 C37.4,505.6 33.5,464.9 32.9,450.8 C32.3,436.7 33.8,420.9 37.2,406.9 C40.6,392.9 52.7,352.8 53.3,366.9 " fill="none" stroke="#c9703f" stroke-width="7" opacity="0.85"/><path d="M37.2,406.9 C26.3,419.2 46.1,380.1 53.3,366.9 C60.5,353.8 69.4,340.0 80.3,327.8 C91.2,315.5 125.9,280.1 118.7,293.3 " fill="none" stroke="#c9703f" stroke-width="4.6" opacity="0.6"/><path d="M553.0,343.0 L538.0,347.5 L522.0,349.0 L506.0,345.5 L492.0,338.5 L348.7,267.6 A15.0,15.0 0 0 0 334.0,293.7 L460.5,373.5 A16.0,16.0 0 0 1 445.0,401.4 L295.7,328.2 A22.0,22.0 0 0 0 275.6,367.4 L392.6,430.4 A16.0,16.0 0 0 1 377.9,458.8 L230.8,385.8 A22.0,22.0 0 0 0 210.3,424.7 L325.3,488.5 A16.0,16.0 0 0 1 310.5,516.9 L163.1,445.7 A22.0,22.0 0 0 0 143.1,484.9 L257.1,546.4 A16.0,16.0 0 0 1 242.2,574.7 L110.0,507.0 L92.0,500.0 L76.0,500.0 L60.0,506.0 L46.0,516.0 " fill="none" stroke="#f3e6dc" stroke-width="23" stroke-linejoin="round" stroke-linecap="butt" opacity="0.9"/><path d="M553.0,343.0 L538.0,347.5 L522.0,349.0 L506.0,345.5 L492.0,338.5 L348.7,267.6 A15.0,15.0 0 0 0 334.0,293.7 L460.5,373.5 A16.0,16.0 0 0 1 445.0,401.4 L295.7,328.2 A22.0,22.0 0 0 0 275.6,367.4 L392.6,430.4 A16.0,16.0 0 0 1 377.9,458.8 L230.8,385.8 A22.0,22.0 0 0 0 210.3,424.7 L325.3,488.5 A16.0,16.0 0 0 1 310.5,516.9 L163.1,445.7 A22.0,22.0 0 0 0 143.1,484.9 L257.1,546.4 A16.0,16.0 0 0 1 242.2,574.7 L110.0,507.0 L92.0,500.0 L76.0,500.0 L60.0,506.0 L46.0,516.0 " fill="none" stroke="#a8542a" stroke-width="19.6" stroke-linejoin="round"/><path d="M553.0,343.0 L538.0,347.5 L522.0,349.0 L506.0,345.5 L492.0,338.5 L348.7,267.6 A15.0,15.0 0 0 0 334.0,293.7 L460.5,373.5 A16.0,16.0 0 0 1 445.0,401.4 L295.7,328.2 A22.0,22.0 0 0 0 275.6,367.4 L392.6,430.4 A16.0,16.0 0 0 1 377.9,458.8 L230.8,385.8 A22.0,22.0 0 0 0 210.3,424.7 L325.3,488.5 A16.0,16.0 0 0 1 310.5,516.9 L163.1,445.7 A22.0,22.0 0 0 0 143.1,484.9 L257.1,546.4 A16.0,16.0 0 0 1 242.2,574.7 L110.0,507.0 L92.0,500.0 L76.0,500.0 L60.0,506.0 L46.0,516.0 " fill="none" stroke="#dd7a52" stroke-width="15.4" stroke-linejoin="round"/><ellipse cx="158.7" cy="329.3" rx="28" ry="24" fill="#e4e4e0" stroke="#a9a9a4" stroke-width="3.5" transform="rotate(-20 158.7 329.3)"/><ellipse cx="160.7" cy="328.3" rx="9" ry="8" fill="#dcc0b4"/><ellipse cx="448.7" cy="499.8" rx="28" ry="24" fill="#e4e4e0" stroke="#a9a9a4" stroke-width="3.5" transform="rotate(-20 448.7 499.8)"/><ellipse cx="450.7" cy="498.8" rx="9" ry="8" fill="#dcc0b4"/></g></g>
<text transform="translate(250,953) rotate(-23.5)" font-size="77" font-weight="bold" fill="#e9edf5" textLength="503" lengthAdjust="spacingAndGlyphs">newbiely.com</text>
</g>
<g id="extras">
<rect x="2219.5" y="767" width="162.8" height="53.4" fill="#fff"/><text x="2230" y="810.4" font-size="45.4" font-weight="bold" fill="#0000d2" textLength="125" lengthAdjust="spacingAndGlyphs">220 Ω</text><rect x="3078" y="710" width="150" height="55" fill="#fff"/><text x="3092.4" y="754.4" font-size="45.4" font-weight="bold" fill="#0000d2" textLength="123" lengthAdjust="spacingAndGlyphs">10 kΩ</text><rect x="2151.6" y="1135" width="398.8" height="61.6" fill="#fff"/><text x="2173.6" y="1179.4" font-size="36.5" font-weight="bold" font-style="italic" textLength="351.6" lengthAdjust="spacingAndGlyphs"><tspan fill="#0a1c4e">https://</tspan><tspan fill="#58c3e4">newbiely</tspan><tspan fill="#0a1c4e">.com</tspan></text>
<line x1="2326.1" y1="735.8" x2="2462.8" y2="735.8" stroke="#8c8c8c" stroke-width="5.4" stroke-linecap="round"/><circle cx="2326.1" cy="735.8" r="9.5" fill="#7fd87f" opacity="0.45"/><circle cx="2462.8" cy="735.8" r="9.5" fill="#7fd87f" opacity="0.45"/><clipPath id="rc5"><path d="M2353.7,720 L2369.7,720 C2374.7,720 2376.7,722.4 2382.7,722.4 L2404.4,722.4 C2410.4,722.4 2412.4,720 2417.4,720 L2433.4,720 Q2436.4,720 2436.4,723 L2436.4,748.2 Q2436.4,751.2 2433.4,751.2 L2417.4,751.2 C2412.4,751.2 2410.4,748.8 2404.4,748.8 L2382.7,748.8 C2376.7,748.8 2374.7,751.2 2369.7,751.2 L2353.7,751.2 Q2350.7,751.2 2350.7,748.2 L2350.7,723 Q2350.7,720 2353.7,720 Z"/></clipPath><path d="M2353.7,720 L2369.7,720 C2374.7,720 2376.7,722.4 2382.7,722.4 L2404.4,722.4 C2410.4,722.4 2412.4,720 2417.4,720 L2433.4,720 Q2436.4,720 2436.4,723 L2436.4,748.2 Q2436.4,751.2 2433.4,751.2 L2417.4,751.2 C2412.4,751.2 2410.4,748.8 2404.4,748.8 L2382.7,748.8 C2376.7,748.8 2374.7,751.2 2369.7,751.2 L2353.7,751.2 Q2350.7,751.2 2350.7,748.2 L2350.7,723 Q2350.7,720 2353.7,720 Z" fill="url(#resg)"/><g clip-path="url(#rc5)"><rect x="2363.4" y="719" width="7" height="21.6" fill="#d81a1a"/><rect x="2363.4" y="740.4" width="7" height="13" fill="#b01010"/><rect x="2380.7" y="719" width="7.4" height="21.6" fill="#d81a1a"/><rect x="2380.7" y="740.4" width="7.4" height="13" fill="#b01010"/><rect x="2397.7" y="719" width="8" height="21.6" fill="#a24e06"/><rect x="2397.7" y="740.4" width="8" height="13" fill="#7e3c04"/><rect x="2425.3" y="719" width="3.8" height="21.6" fill="#b8971c"/><rect x="2425.3" y="740.4" width="3.8" height="13" fill="#7a6410"/><circle cx="2354.7" cy="724.5" r="1.8" fill="#fff" opacity="0.45"/><circle cx="2427.2" cy="724.5" r="2.2" fill="#ffe680" opacity="0.7"/></g>
<line x1="2907.2" y1="735.8" x2="3043.9" y2="735.8" stroke="#8c8c8c" stroke-width="5.4" stroke-linecap="round"/><circle cx="2907.2" cy="735.8" r="9.5" fill="#7fd87f" opacity="0.45"/><circle cx="3043.9" cy="735.8" r="9.5" fill="#7fd87f" opacity="0.45"/><clipPath id="rc22"><path d="M2934.8,720 L2950.8,720 C2955.8,720 2957.8,722.4 2963.8,722.4 L2985.5,722.4 C2991.5,722.4 2993.5,720 2998.5,720 L3014.5,720 Q3017.5,720 3017.5,723 L3017.5,748.2 Q3017.5,751.2 3014.5,751.2 L2998.5,751.2 C2993.5,751.2 2991.5,748.8 2985.5,748.8 L2963.8,748.8 C2957.8,748.8 2955.8,751.2 2950.8,751.2 L2934.8,751.2 Q2931.8,751.2 2931.8,748.2 L2931.8,723 Q2931.8,720 2934.8,720 Z"/></clipPath><path d="M2934.8,720 L2950.8,720 C2955.8,720 2957.8,722.4 2963.8,722.4 L2985.5,722.4 C2991.5,722.4 2993.5,720 2998.5,720 L3014.5,720 Q3017.5,720 3017.5,723 L3017.5,748.2 Q3017.5,751.2 3014.5,751.2 L2998.5,751.2 C2993.5,751.2 2991.5,748.8 2985.5,748.8 L2963.8,748.8 C2957.8,748.8 2955.8,751.2 2950.8,751.2 L2934.8,751.2 Q2931.8,751.2 2931.8,748.2 L2931.8,723 Q2931.8,720 2934.8,720 Z" fill="url(#resg)"/><g clip-path="url(#rc22)"><rect x="2944.5" y="719" width="7" height="21.6" fill="#d81a1a"/><rect x="2944.5" y="740.4" width="7" height="13" fill="#b01010"/><rect x="2961.8" y="719" width="7.4" height="21.6" fill="#d81a1a"/><rect x="2961.8" y="740.4" width="7.4" height="13" fill="#b01010"/><rect x="2978.8" y="719" width="8" height="21.6" fill="#a24e06"/><rect x="2978.8" y="740.4" width="8" height="13" fill="#7e3c04"/><rect x="3006.4" y="719" width="3.8" height="21.6" fill="#b8971c"/><rect x="3006.4" y="740.4" width="3.8" height="13" fill="#7a6410"/><circle cx="2935.8" cy="724.5" r="1.8" fill="#fff" opacity="0.45"/><circle cx="3008.3" cy="724.5" r="2.2" fill="#ffe680" opacity="0.7"/></g>
<path d="M2428.5,518 L2428.5,667.4" stroke="#8e8e8e" stroke-width="7.6" fill="none" stroke-linecap="round"/><path d="M2446.6,520 L2463.1,546 L2463.1,667.4" stroke="#8e8e8e" stroke-width="7.6" fill="none" stroke-linecap="round" stroke-linejoin="round"/><rect x="2424.7" y="649.4" width="7.6" height="18" fill="#6fb56f" opacity="0.75"/><circle cx="2428.5" cy="667.4" r="4" fill="#5a9a5a"/><rect x="2459.3" y="649.4" width="7.6" height="18" fill="#6fb56f" opacity="0.75"/><circle cx="2463.1" cy="667.4" r="4" fill="#5a9a5a"/><path d="M2407.5,498 L2407.5,502 C2409,516 2428,521.6 2441,521.2 C2456,520.8 2470,514 2476,505 C2481,498 2481.6,488 2480,481 C2478.6,475 2476,472 2474.2,470.6 L2474.2,498 Z" fill="#e2181e"/><path d="M2407.5,444 A33.3,33.3 0 0 1 2474.1,444 L2474.1,499 C2468,509 2452,512.6 2440.8,512.6 C2428,512.6 2412,509 2407.5,499 Z" fill="url(#ledg)"/><path d="M2407.5,499 C2412,509 2428,512.6 2440.8,512.6 C2452,512.6 2464,510 2470,504" fill="none" stroke="#f58a8a" stroke-width="1.8"/><rect x="2424.2" y="451.9" width="39" height="18.6" fill="#c9282e"/><path d="M2440,470.5 L2461.6,452" stroke="#e8484c" stroke-width="2"/><rect x="2460.6" y="451.9" width="2.4" height="33.4" fill="#c9282e"/><path d="M2447,417 l13,10 l-3,2.4 l-13,-10 z" fill="#f7aeae" opacity="0.9"/><rect x="2421.4" y="444" width="2.2" height="58" fill="#ec5a5c" opacity="0.6"/>
<ellipse cx="3086.3" cy="1166.2" rx="74.4" ry="34.8" fill="#fff" stroke="#353535" stroke-width="6.8"/><ellipse cx="3086.3" cy="1166.2" rx="78.6" ry="39" fill="none" stroke="#fff" stroke-width="1.6"/><path d="M3036.5,1153.3 C3047,1153.6 3053.4,1162 3053.4,1170.2 C3053.4,1178.4 3047,1186.8 3036.5,1187.1 Z" fill="#000"/><path d="M3053.9,1144.2 L3080.9,1144.2 L3080.9,1165 C3080.9,1179 3071,1187.1 3059,1187.1 L3053.9,1187.1 Z" fill="#000"/><text x="3085" y="1162.6" font-size="24.6" font-weight="bold" fill="#111" textLength="48.6" lengthAdjust="spacingAndGlyphs">DIY</text><rect x="3085.4" y="1168.2" width="49.4" height="19" fill="#000"/><text x="3089.4" y="1183.6" font-size="17.4" font-weight="bold" fill="#fff" textLength="41.4" lengthAdjust="spacingAndGlyphs">ables</text>
<path d="M1341.4,1249 Q1385.5,1269.4 1429.6,1249 C1434,1262 1438,1290 1436.2,1330 L1335.8,1330 C1334,1290 1337,1262 1341.4,1249 Z" fill="#4fc4ea"/><circle cx="1356.6" cy="1296.9" r="21" fill="none" stroke="#f5b83a" stroke-width="5.2"/><circle cx="1414.5" cy="1296.9" r="21" fill="none" stroke="#f5b83a" stroke-width="5.2"/><path d="M1377,1292.6 Q1385.6,1288.6 1394,1292.6" fill="none" stroke="#f5b83a" stroke-width="4.4"/><circle cx="1362" cy="1299.8" r="8.2" fill="#fff"/><circle cx="1409" cy="1299.8" r="8.2" fill="#fff"/><path d="M1385.5,1310.2 l3.8,3.8 l-3.8,3.8 l-3.8,-3.8 z" fill="#fff"/><path d="M1319,1326.7 L1453,1326.7 Q1458.6,1326.7 1457.6,1332 L1449.4,1388 Q1448.4,1393.7 1443,1393.7 L1331,1393.7 Q1325.6,1393.7 1324.6,1388 L1314.4,1332 Q1313.4,1326.7 1319,1326.7 Z" fill="#44427a"/><ellipse cx="1385.5" cy="1359.4" rx="7.8" ry="6.6" fill="#f5b83a"/><text x="1252.4" y="1430.8" font-size="37.4" font-weight="bold" fill="#5cc8ea" textLength="260.6" lengthAdjust="spacing">newbiely.com</text>
<use href="#ldrsym" transform="translate(3000.4,321.4) scale(0.241,0.2373)"/>
<circle cx="3043.9" cy="667.4" r="5" fill="#6fae6f" opacity="0.55"/>
<circle cx="3112.3" cy="667.4" r="5" fill="#6fae6f" opacity="0.55"/>
</g>
<g id="wires" fill="none" stroke-linecap="round">
<path d="M1354.0,525.2 C1539.5,-171.1 2180.7,7.2 2907.2,667.4" stroke="#161616" stroke-width="13.2"/>
<path d="M1354.0,525.2 C1539.5,-171.1 2180.7,7.2 2907.2,667.4" stroke="#3e3e3e" stroke-width="9.2"/>
<path d="M1750.8,525.2 C1779.2,390.6 1939.9,224.9 2326.1,667.4" stroke="#c9c912" stroke-width="13.2"/>
<path d="M1750.8,525.2 C1779.2,390.6 1939.9,224.9 2326.1,667.4" stroke="#ffff14" stroke-width="9.2"/>
<path d="M2428.4,804.2 C2625.9,1048.0 2834.9,964.7 2906.8,804.2" stroke="#161616" stroke-width="13.2"/>
<path d="M2428.4,804.2 C2625.9,1048.0 2834.9,964.7 2906.8,804.2" stroke="#3e3e3e" stroke-width="9.2"/>
<path d="M1682.6,1174.3 C1926.2,1748.6 2530.0,1367.2 3043.6,804.2" stroke="#b81ab8" stroke-width="13.2"/>
<path d="M1682.6,1174.3 C1926.2,1748.6 2530.0,1367.2 3043.6,804.2" stroke="#ff4cff" stroke-width="9.2"/>
<path d="M1511.3,1174.3 C1819.9,1941.3 2478.1,1550.9 3112.0,804.2" stroke="#7e0606" stroke-width="13.2"/>
<path d="M1511.3,1174.3 C1819.9,1941.3 2478.1,1550.9 3112.0,804.2" stroke="#d31a1a" stroke-width="9.2"/>
</g>
<g id="ends"><circle cx="2326.1" cy="667.4" r="6.6" fill="#2fc02f" opacity="0.42"/><circle cx="2907.2" cy="667.4" r="6.6" fill="#2fc02f" opacity="0.42"/><circle cx="2428.7" cy="804.1" r="6.6" fill="#2fc02f" opacity="0.42"/><circle cx="2907.2" cy="804.1" r="6.6" fill="#2fc02f" opacity="0.42"/><circle cx="3043.9" cy="804.1" r="6.6" fill="#2fc02f" opacity="0.42"/><circle cx="3112.3" cy="804.1" r="6.6" fill="#2fc02f" opacity="0.42"/><circle cx="1354" cy="525.2" r="6.4" fill="#2fc02f" opacity="0.35"/><circle cx="1750.8" cy="525.2" r="6.4" fill="#2fc02f" opacity="0.35"/><circle cx="1511.3" cy="1174.3" r="6.4" fill="#2fc02f" opacity="0.35"/><circle cx="1682.6" cy="1174.3" r="6.4" fill="#2fc02f" opacity="0.35"/></g>
</svg>
</body></html>
